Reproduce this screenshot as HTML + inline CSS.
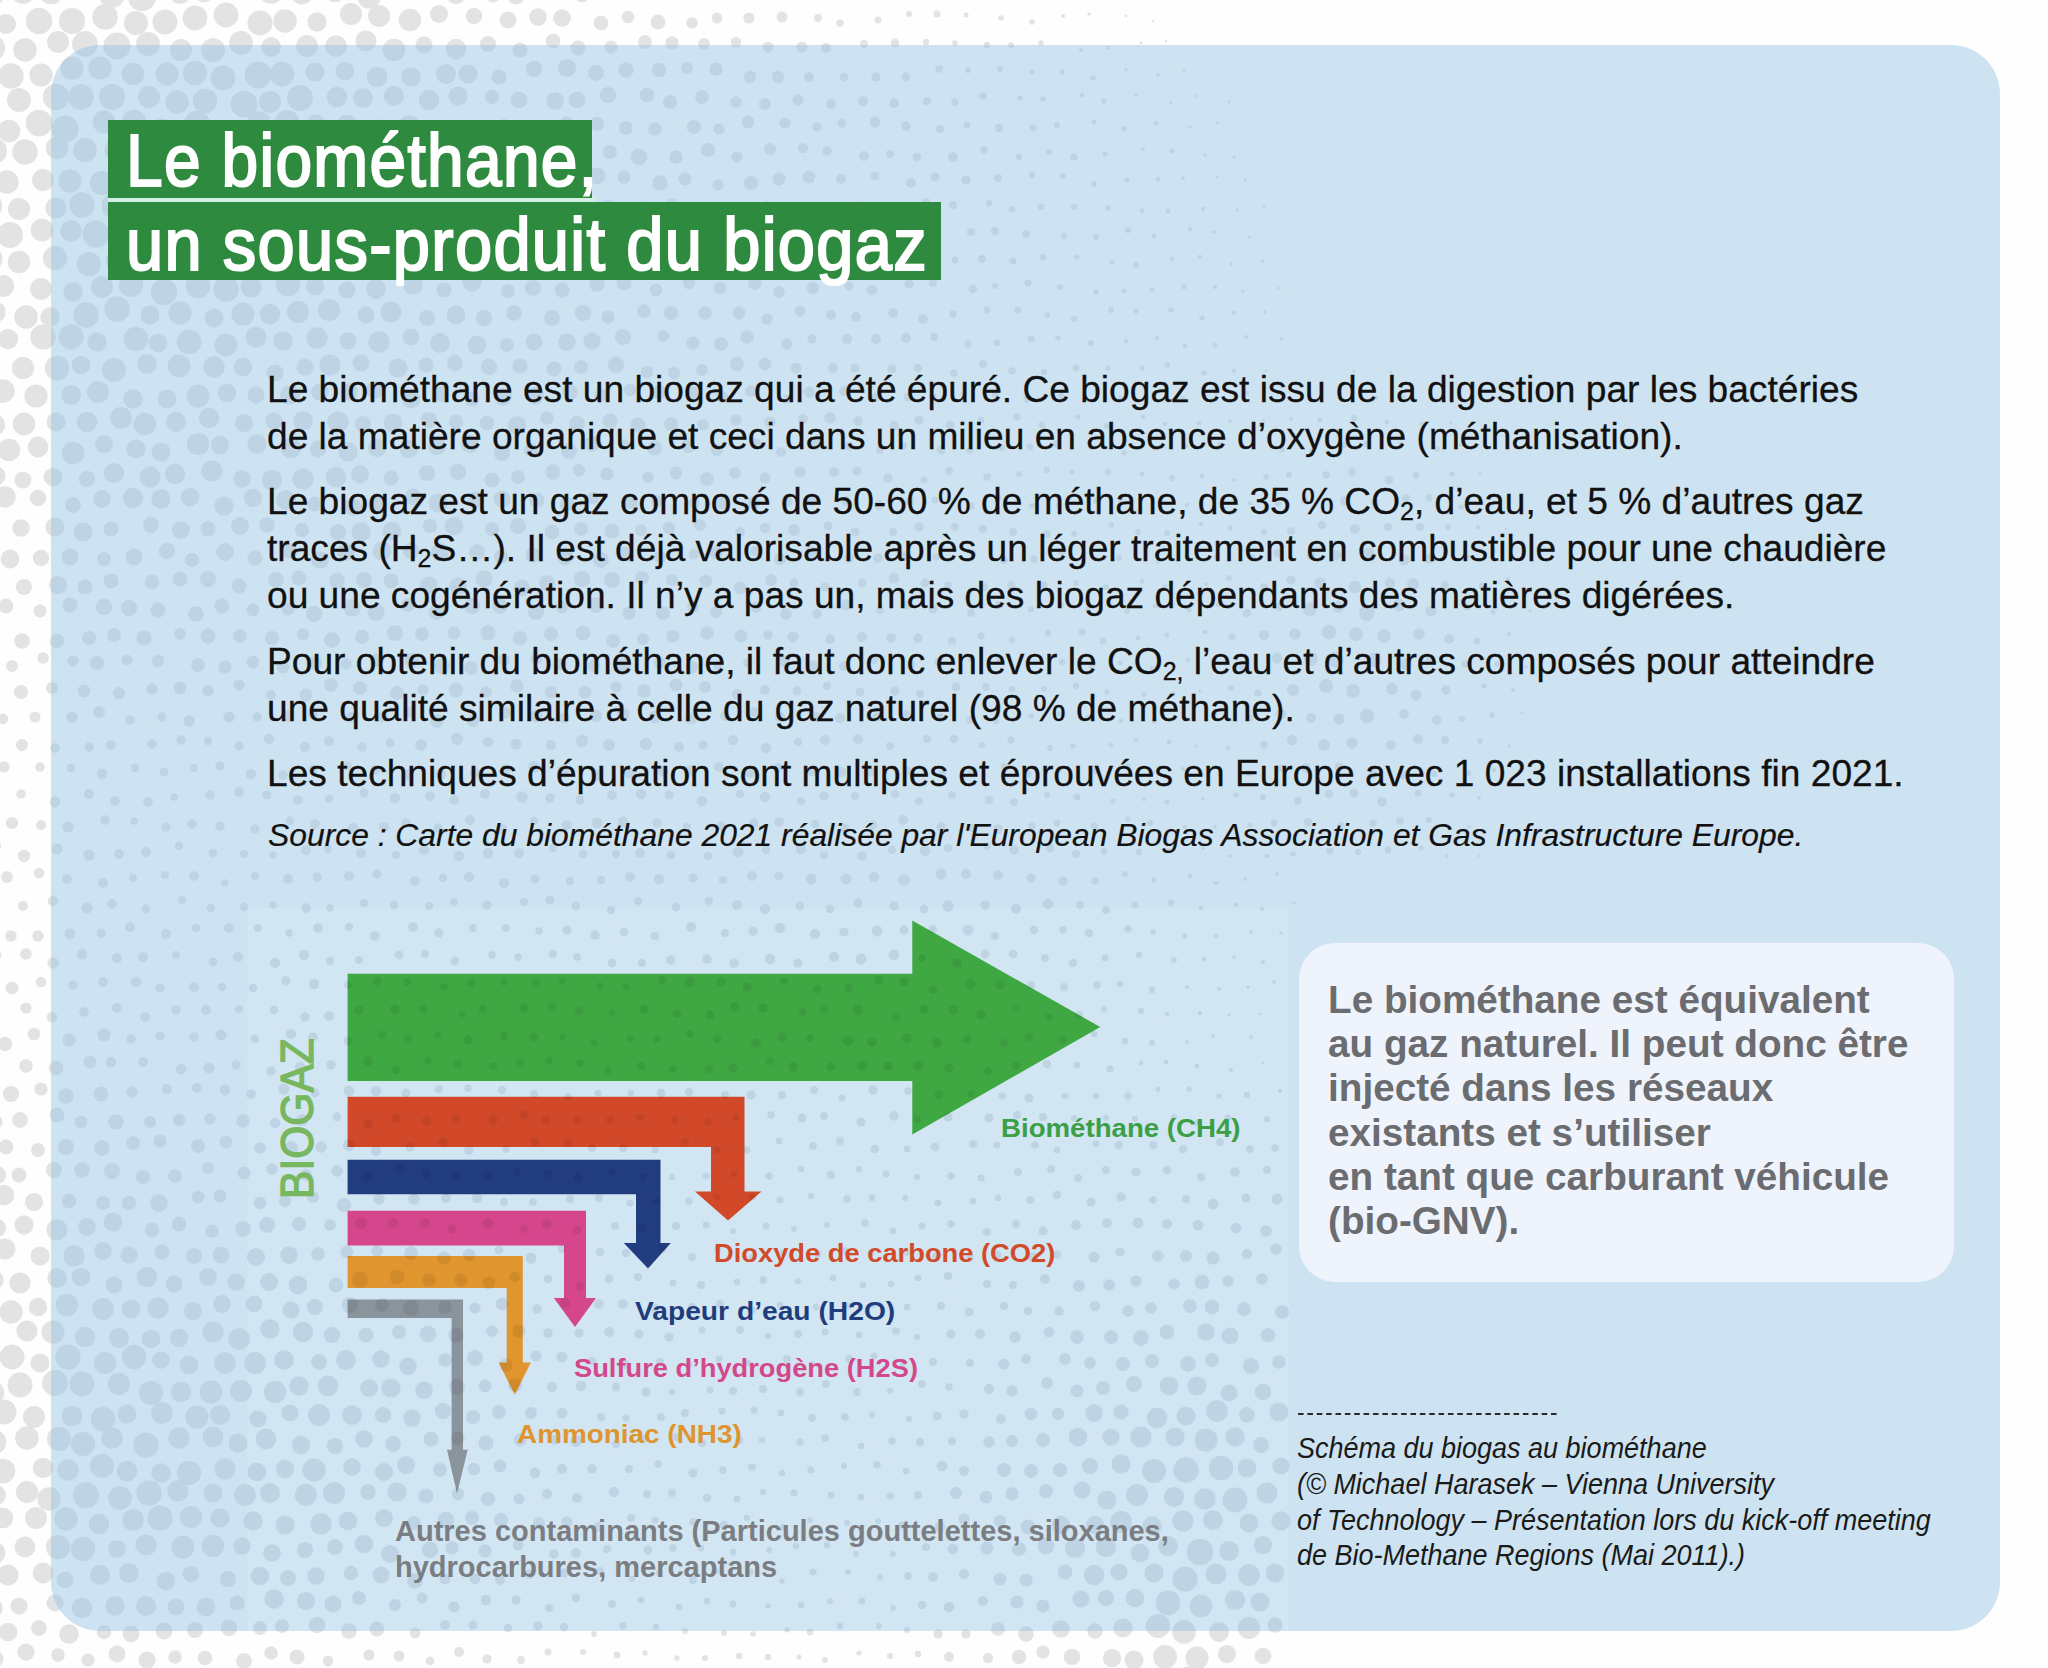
<!DOCTYPE html>
<html><head><meta charset="utf-8">
<style>
html,body{margin:0;padding:0}
body{width:2048px;height:1668px;position:relative;overflow:hidden;background:#fefefe;font-family:"Liberation Sans",sans-serif}
.abs{position:absolute}
#dots{position:absolute;left:0;top:0}
.tb{position:absolute;background:#2e8a3e}
.tt{position:absolute;color:#fff;font-weight:normal;font-size:75px;line-height:80px;white-space:nowrap;transform-origin:0 0;-webkit-text-stroke:2.2px #fff;letter-spacing:1.5px}
.body{position:absolute;left:267px;color:#111;font-size:37.14px;line-height:47px;white-space:nowrap;-webkit-text-stroke:0.3px #111}
.body sub{font-size:25px;line-height:0;vertical-align:-6px}
.src{position:absolute;left:268px;color:#111;font-style:italic;font-size:31.83px;line-height:40px;white-space:nowrap;-webkit-text-stroke:0.2px #111}
#box{position:absolute;left:1299px;top:943px;width:655px;height:339px;border-radius:36px;background:#eef3fc}
.boxt{position:absolute;left:1328px;color:#6b6c70;font-weight:bold;font-size:38.7px;line-height:44.2px;white-space:nowrap}
.cap{position:absolute;left:1297px;color:#1a1a1a;font-style:italic;font-size:28.6px;line-height:35.8px;white-space:nowrap;transform:scaleX(0.944);transform-origin:0 0}
.lab{position:absolute;font-weight:bold;white-space:nowrap;transform-origin:0 0}
</style></head><body>
<svg id="dots" width="2048" height="1668" viewBox="0 0 2048 1668">
<defs><g id="D"><circle cx="-8" cy="-7" r="12.9"/><circle cx="23" cy="-8" r="11.9"/><circle cx="51" cy="-8" r="12.2"/><circle cx="88" cy="-12" r="11.2"/><circle cx="112" cy="-5" r="12.8"/><circle cx="142" cy="-3" r="14.1"/><circle cx="180" cy="-7" r="10.8"/><circle cx="204" cy="-8" r="10.3"/><circle cx="237" cy="-11" r="10.0"/><circle cx="271" cy="-9" r="12.8"/><circle cx="302" cy="-7" r="11.4"/><circle cx="335" cy="-8" r="10.2"/><circle cx="369" cy="-3" r="11.7"/><circle cx="397" cy="-10" r="9.3"/><circle cx="424" cy="-12" r="10.7"/><circle cx="456" cy="-5" r="9.1"/><circle cx="493" cy="-5" r="7.5"/><circle cx="516" cy="-4" r="8.6"/><circle cx="555" cy="-9" r="7.1"/><circle cx="582" cy="-5" r="7.3"/><circle cx="608" cy="-10" r="8.6"/><circle cx="646" cy="-12" r="6.3"/><circle cx="670" cy="-12" r="7.1"/><circle cx="702" cy="-7" r="5.9"/><circle cx="733" cy="-6" r="4.9"/><circle cx="768" cy="-12" r="4.9"/><circle cx="795" cy="-10" r="5.3"/><circle cx="832" cy="-10" r="4.7"/><circle cx="857" cy="-9" r="4.3"/><circle cx="892" cy="-12" r="3.9"/><circle cx="919" cy="-10" r="3.4"/><circle cx="951" cy="-10" r="2.5"/><circle cx="980" cy="-7" r="2.5"/><circle cx="1016" cy="-9" r="2.3"/><circle cx="1051" cy="-8" r="2.1"/><circle cx="1081" cy="-11" r="1.6"/><circle cx="1112" cy="-5" r="1.4"/><circle cx="1136" cy="-6" r="1.5"/><circle cx="6" cy="24" r="10.0"/><circle cx="39" cy="21" r="13.2"/><circle cx="72" cy="21" r="13.0"/><circle cx="105" cy="17" r="12.8"/><circle cx="136" cy="23" r="12.0"/><circle cx="165" cy="22" r="12.5"/><circle cx="195" cy="18" r="12.4"/><circle cx="226" cy="15" r="12.4"/><circle cx="260" cy="23" r="12.5"/><circle cx="285" cy="21" r="11.8"/><circle cx="317" cy="22" r="9.7"/><circle cx="351" cy="14" r="11.1"/><circle cx="379" cy="16" r="11.0"/><circle cx="410" cy="20" r="11.2"/><circle cx="439" cy="14" r="9.0"/><circle cx="474" cy="16" r="8.2"/><circle cx="508" cy="20" r="8.5"/><circle cx="538" cy="17" r="8.8"/><circle cx="562" cy="18" r="8.8"/><circle cx="601" cy="23" r="7.3"/><circle cx="628" cy="17" r="6.3"/><circle cx="658" cy="22" r="7.5"/><circle cx="692" cy="23" r="5.8"/><circle cx="717" cy="18" r="5.4"/><circle cx="749" cy="18" r="5.6"/><circle cx="782" cy="17" r="5.5"/><circle cx="818" cy="18" r="3.9"/><circle cx="840" cy="23" r="3.7"/><circle cx="878" cy="20" r="3.6"/><circle cx="909" cy="14" r="3.0"/><circle cx="937" cy="14" r="3.5"/><circle cx="966" cy="15" r="2.5"/><circle cx="1001" cy="18" r="2.8"/><circle cx="1032" cy="22" r="2.8"/><circle cx="1063" cy="16" r="2.1"/><circle cx="1089" cy="14" r="1.8"/><circle cx="1126" cy="16" r="1.4"/><circle cx="1153" cy="21" r="1.3"/><circle cx="-8" cy="48" r="13.0"/><circle cx="25" cy="50" r="11.8"/><circle cx="58" cy="42" r="10.9"/><circle cx="85" cy="44" r="12.9"/><circle cx="117" cy="46" r="13.5"/><circle cx="148" cy="44" r="11.9"/><circle cx="181" cy="50" r="11.0"/><circle cx="213" cy="50" r="12.0"/><circle cx="241" cy="43" r="11.9"/><circle cx="271" cy="47" r="9.9"/><circle cx="307" cy="46" r="10.9"/><circle cx="336" cy="46" r="10.8"/><circle cx="366" cy="41" r="10.6"/><circle cx="394" cy="50" r="11.3"/><circle cx="424" cy="45" r="8.5"/><circle cx="456" cy="49" r="10.3"/><circle cx="488" cy="44" r="8.0"/><circle cx="520" cy="50" r="7.5"/><circle cx="553" cy="41" r="7.3"/><circle cx="578" cy="48" r="7.4"/><circle cx="611" cy="47" r="6.5"/><circle cx="645" cy="42" r="7.0"/><circle cx="672" cy="43" r="6.7"/><circle cx="704" cy="44" r="6.0"/><circle cx="736" cy="42" r="5.2"/><circle cx="768" cy="47" r="5.4"/><circle cx="802" cy="47" r="5.5"/><circle cx="826" cy="48" r="5.1"/><circle cx="864" cy="44" r="3.9"/><circle cx="895" cy="43" r="4.4"/><circle cx="926" cy="42" r="3.2"/><circle cx="955" cy="43" r="2.8"/><circle cx="987" cy="45" r="3.3"/><circle cx="1011" cy="45" r="3.0"/><circle cx="1041" cy="43" r="2.7"/><circle cx="1081" cy="50" r="2.0"/><circle cx="1108" cy="48" r="2.0"/><circle cx="1141" cy="43" r="1.4"/><circle cx="1166" cy="41" r="1.4"/><circle cx="11" cy="76" r="12.7"/><circle cx="41" cy="75" r="11.6"/><circle cx="72" cy="68" r="11.5"/><circle cx="100" cy="68" r="11.6"/><circle cx="133" cy="74" r="11.3"/><circle cx="167" cy="74" r="11.6"/><circle cx="195" cy="73" r="12.2"/><circle cx="223" cy="78" r="12.4"/><circle cx="258" cy="75" r="13.4"/><circle cx="282" cy="74" r="12.4"/><circle cx="315" cy="72" r="9.6"/><circle cx="345" cy="71" r="9.3"/><circle cx="377" cy="77" r="10.3"/><circle cx="411" cy="77" r="9.8"/><circle cx="446" cy="74" r="10.0"/><circle cx="468" cy="74" r="9.6"/><circle cx="499" cy="77" r="7.6"/><circle cx="534" cy="69" r="8.2"/><circle cx="567" cy="68" r="9.0"/><circle cx="596" cy="73" r="7.9"/><circle cx="626" cy="70" r="7.6"/><circle cx="659" cy="70" r="7.3"/><circle cx="687" cy="68" r="5.9"/><circle cx="716" cy="69" r="6.6"/><circle cx="750" cy="77" r="6.2"/><circle cx="778" cy="77" r="6.2"/><circle cx="809" cy="77" r="4.9"/><circle cx="844" cy="77" r="4.3"/><circle cx="876" cy="77" r="4.6"/><circle cx="906" cy="77" r="4.4"/><circle cx="939" cy="69" r="3.8"/><circle cx="968" cy="70" r="2.9"/><circle cx="1000" cy="69" r="3.0"/><circle cx="1032" cy="72" r="2.6"/><circle cx="1062" cy="72" r="2.8"/><circle cx="1093" cy="78" r="2.7"/><circle cx="1126" cy="70" r="1.7"/><circle cx="1158" cy="75" r="1.8"/><circle cx="1184" cy="70" r="1.5"/><circle cx="-12" cy="103" r="10.4"/><circle cx="19" cy="100" r="12.0"/><circle cx="56" cy="97" r="13.2"/><circle cx="81" cy="97" r="12.8"/><circle cx="112" cy="97" r="13.1"/><circle cx="149" cy="97" r="11.0"/><circle cx="177" cy="102" r="11.7"/><circle cx="205" cy="101" r="12.3"/><circle cx="244" cy="104" r="13.3"/><circle cx="270" cy="102" r="10.9"/><circle cx="300" cy="98" r="13.0"/><circle cx="337" cy="97" r="10.3"/><circle cx="363" cy="98" r="10.0"/><circle cx="394" cy="96" r="10.0"/><circle cx="429" cy="100" r="10.2"/><circle cx="458" cy="96" r="9.5"/><circle cx="492" cy="97" r="7.2"/><circle cx="519" cy="100" r="8.5"/><circle cx="555" cy="101" r="8.7"/><circle cx="577" cy="100" r="8.5"/><circle cx="608" cy="95" r="8.1"/><circle cx="647" cy="95" r="7.3"/><circle cx="670" cy="102" r="7.1"/><circle cx="702" cy="97" r="6.9"/><circle cx="736" cy="102" r="5.8"/><circle cx="765" cy="104" r="6.0"/><circle cx="798" cy="100" r="5.7"/><circle cx="831" cy="104" r="4.9"/><circle cx="863" cy="101" r="5.2"/><circle cx="894" cy="103" r="4.9"/><circle cx="927" cy="101" r="4.1"/><circle cx="955" cy="102" r="3.7"/><circle cx="983" cy="96" r="3.7"/><circle cx="1020" cy="98" r="2.8"/><circle cx="1043" cy="99" r="2.8"/><circle cx="1082" cy="95" r="2.4"/><circle cx="1104" cy="101" r="2.6"/><circle cx="1136" cy="95" r="2.1"/><circle cx="1171" cy="103" r="1.6"/><circle cx="1197" cy="96" r="1.4"/><circle cx="1229" cy="102" r="1.3"/><circle cx="9" cy="131" r="11.3"/><circle cx="39" cy="123" r="13.3"/><circle cx="65" cy="129" r="13.6"/><circle cx="104" cy="122" r="11.4"/><circle cx="134" cy="122" r="12.3"/><circle cx="162" cy="131" r="12.6"/><circle cx="197" cy="124" r="13.2"/><circle cx="224" cy="130" r="10.3"/><circle cx="259" cy="123" r="11.8"/><circle cx="287" cy="123" r="12.7"/><circle cx="316" cy="124" r="9.6"/><circle cx="347" cy="126" r="11.3"/><circle cx="378" cy="128" r="8.7"/><circle cx="409" cy="126" r="10.8"/><circle cx="445" cy="128" r="7.4"/><circle cx="471" cy="128" r="7.8"/><circle cx="504" cy="126" r="7.0"/><circle cx="539" cy="129" r="7.3"/><circle cx="567" cy="124" r="7.5"/><circle cx="597" cy="124" r="7.2"/><circle cx="626" cy="128" r="6.8"/><circle cx="655" cy="129" r="6.6"/><circle cx="694" cy="127" r="7.1"/><circle cx="719" cy="129" r="5.5"/><circle cx="748" cy="122" r="6.4"/><circle cx="785" cy="123" r="5.5"/><circle cx="817" cy="127" r="4.7"/><circle cx="842" cy="123" r="4.5"/><circle cx="875" cy="122" r="5.4"/><circle cx="906" cy="126" r="4.7"/><circle cx="940" cy="129" r="4.0"/><circle cx="967" cy="125" r="3.3"/><circle cx="999" cy="128" r="4.2"/><circle cx="1033" cy="128" r="3.4"/><circle cx="1057" cy="125" r="2.9"/><circle cx="1094" cy="122" r="2.6"/><circle cx="1124" cy="129" r="2.7"/><circle cx="1156" cy="123" r="2.3"/><circle cx="1190" cy="127" r="1.7"/><circle cx="1217" cy="123" r="1.6"/><circle cx="-6" cy="151" r="13.0"/><circle cx="25" cy="152" r="12.7"/><circle cx="57" cy="148" r="11.2"/><circle cx="85" cy="150" r="11.9"/><circle cx="117" cy="150" r="12.4"/><circle cx="145" cy="154" r="11.7"/><circle cx="179" cy="148" r="12.8"/><circle cx="205" cy="158" r="12.3"/><circle cx="240" cy="152" r="12.2"/><circle cx="273" cy="156" r="12.5"/><circle cx="302" cy="158" r="12.5"/><circle cx="337" cy="152" r="10.5"/><circle cx="365" cy="157" r="10.2"/><circle cx="395" cy="152" r="10.8"/><circle cx="424" cy="149" r="9.7"/><circle cx="461" cy="155" r="8.7"/><circle cx="491" cy="151" r="8.5"/><circle cx="515" cy="149" r="8.0"/><circle cx="550" cy="152" r="6.8"/><circle cx="583" cy="153" r="7.1"/><circle cx="610" cy="152" r="6.9"/><circle cx="639" cy="157" r="8.3"/><circle cx="676" cy="157" r="6.7"/><circle cx="708" cy="150" r="7.1"/><circle cx="737" cy="157" r="5.5"/><circle cx="770" cy="149" r="6.1"/><circle cx="803" cy="148" r="5.2"/><circle cx="827" cy="151" r="4.7"/><circle cx="864" cy="156" r="4.9"/><circle cx="890" cy="154" r="4.2"/><circle cx="917" cy="157" r="4.3"/><circle cx="953" cy="157" r="4.9"/><circle cx="984" cy="150" r="3.7"/><circle cx="1019" cy="157" r="3.3"/><circle cx="1049" cy="152" r="3.3"/><circle cx="1074" cy="157" r="3.6"/><circle cx="1105" cy="154" r="2.5"/><circle cx="1143" cy="149" r="2.1"/><circle cx="1172" cy="151" r="2.4"/><circle cx="1205" cy="155" r="1.7"/><circle cx="1234" cy="157" r="1.5"/><circle cx="7" cy="182" r="11.7"/><circle cx="43" cy="180" r="10.9"/><circle cx="70" cy="181" r="11.6"/><circle cx="102" cy="183" r="12.2"/><circle cx="132" cy="183" r="12.8"/><circle cx="163" cy="184" r="10.8"/><circle cx="196" cy="177" r="12.3"/><circle cx="222" cy="179" r="12.7"/><circle cx="258" cy="183" r="10.5"/><circle cx="286" cy="177" r="11.6"/><circle cx="317" cy="175" r="11.3"/><circle cx="351" cy="181" r="11.5"/><circle cx="376" cy="176" r="8.4"/><circle cx="410" cy="179" r="9.1"/><circle cx="439" cy="183" r="7.6"/><circle cx="477" cy="181" r="8.5"/><circle cx="506" cy="177" r="7.3"/><circle cx="533" cy="175" r="7.6"/><circle cx="567" cy="180" r="7.2"/><circle cx="597" cy="176" r="8.4"/><circle cx="624" cy="177" r="6.6"/><circle cx="660" cy="183" r="7.7"/><circle cx="685" cy="179" r="6.5"/><circle cx="718" cy="185" r="5.5"/><circle cx="751" cy="183" r="7.1"/><circle cx="779" cy="179" r="6.4"/><circle cx="809" cy="177" r="6.3"/><circle cx="841" cy="179" r="5.0"/><circle cx="875" cy="176" r="4.3"/><circle cx="911" cy="183" r="5.0"/><circle cx="935" cy="177" r="4.5"/><circle cx="966" cy="180" r="4.6"/><circle cx="998" cy="178" r="4.3"/><circle cx="1032" cy="175" r="3.3"/><circle cx="1063" cy="176" r="3.0"/><circle cx="1094" cy="184" r="2.9"/><circle cx="1127" cy="180" r="2.5"/><circle cx="1158" cy="179" r="2.5"/><circle cx="1183" cy="178" r="1.9"/><circle cx="1217" cy="177" r="1.6"/><circle cx="1245" cy="180" r="1.4"/><circle cx="-10" cy="206" r="12.2"/><circle cx="19" cy="209" r="11.1"/><circle cx="56" cy="208" r="10.6"/><circle cx="82" cy="205" r="12.8"/><circle cx="115" cy="206" r="13.4"/><circle cx="144" cy="205" r="11.4"/><circle cx="175" cy="202" r="10.1"/><circle cx="210" cy="207" r="12.7"/><circle cx="245" cy="205" r="12.0"/><circle cx="275" cy="204" r="11.9"/><circle cx="304" cy="211" r="12.2"/><circle cx="330" cy="208" r="9.2"/><circle cx="363" cy="206" r="8.6"/><circle cx="394" cy="205" r="9.5"/><circle cx="424" cy="203" r="8.7"/><circle cx="457" cy="203" r="9.0"/><circle cx="485" cy="203" r="7.9"/><circle cx="518" cy="203" r="8.3"/><circle cx="552" cy="207" r="8.4"/><circle cx="576" cy="206" r="7.4"/><circle cx="608" cy="206" r="6.5"/><circle cx="643" cy="208" r="7.1"/><circle cx="672" cy="204" r="5.9"/><circle cx="703" cy="211" r="6.8"/><circle cx="734" cy="208" r="5.7"/><circle cx="767" cy="208" r="6.9"/><circle cx="797" cy="208" r="6.5"/><circle cx="832" cy="208" r="5.6"/><circle cx="859" cy="206" r="4.8"/><circle cx="894" cy="211" r="4.6"/><circle cx="926" cy="202" r="4.0"/><circle cx="953" cy="205" r="4.0"/><circle cx="989" cy="203" r="3.4"/><circle cx="1012" cy="209" r="3.2"/><circle cx="1041" cy="207" r="3.1"/><circle cx="1074" cy="207" r="3.1"/><circle cx="1108" cy="208" r="2.8"/><circle cx="1142" cy="211" r="2.4"/><circle cx="1168" cy="211" r="2.2"/><circle cx="1203" cy="209" r="2.2"/><circle cx="1237" cy="210" r="1.5"/><circle cx="1264" cy="207" r="1.4"/><circle cx="10" cy="235" r="13.0"/><circle cx="42" cy="230" r="11.4"/><circle cx="71" cy="231" r="10.7"/><circle cx="96" cy="234" r="13.5"/><circle cx="136" cy="230" r="12.5"/><circle cx="162" cy="235" r="11.4"/><circle cx="198" cy="239" r="9.8"/><circle cx="227" cy="230" r="9.7"/><circle cx="253" cy="236" r="12.9"/><circle cx="283" cy="232" r="9.3"/><circle cx="318" cy="233" r="10.2"/><circle cx="347" cy="237" r="11.2"/><circle cx="377" cy="233" r="10.0"/><circle cx="413" cy="238" r="8.8"/><circle cx="443" cy="234" r="9.5"/><circle cx="469" cy="230" r="7.4"/><circle cx="508" cy="231" r="8.2"/><circle cx="531" cy="232" r="6.8"/><circle cx="566" cy="230" r="8.1"/><circle cx="594" cy="231" r="7.6"/><circle cx="626" cy="231" r="6.3"/><circle cx="654" cy="238" r="6.7"/><circle cx="685" cy="230" r="6.8"/><circle cx="725" cy="231" r="7.2"/><circle cx="751" cy="233" r="6.8"/><circle cx="781" cy="229" r="6.0"/><circle cx="815" cy="235" r="5.2"/><circle cx="849" cy="237" r="6.1"/><circle cx="875" cy="237" r="5.3"/><circle cx="903" cy="229" r="4.2"/><circle cx="934" cy="229" r="4.2"/><circle cx="971" cy="232" r="4.0"/><circle cx="995" cy="231" r="4.2"/><circle cx="1026" cy="234" r="3.7"/><circle cx="1064" cy="236" r="2.9"/><circle cx="1096" cy="237" r="3.0"/><circle cx="1128" cy="230" r="3.0"/><circle cx="1154" cy="236" r="2.3"/><circle cx="1190" cy="229" r="2.3"/><circle cx="1214" cy="232" r="1.9"/><circle cx="1249" cy="237" r="1.6"/><circle cx="-11" cy="259" r="13.5"/><circle cx="19" cy="262" r="11.2"/><circle cx="55" cy="258" r="12.1"/><circle cx="89" cy="264" r="12.1"/><circle cx="116" cy="261" r="10.2"/><circle cx="150" cy="262" r="11.5"/><circle cx="180" cy="260" r="11.0"/><circle cx="206" cy="261" r="11.5"/><circle cx="240" cy="256" r="11.6"/><circle cx="270" cy="261" r="11.2"/><circle cx="306" cy="257" r="10.5"/><circle cx="338" cy="263" r="9.5"/><circle cx="366" cy="265" r="9.4"/><circle cx="399" cy="257" r="10.7"/><circle cx="426" cy="258" r="9.9"/><circle cx="458" cy="265" r="9.4"/><circle cx="491" cy="261" r="9.6"/><circle cx="515" cy="264" r="8.7"/><circle cx="548" cy="264" r="7.8"/><circle cx="581" cy="264" r="7.0"/><circle cx="610" cy="262" r="6.5"/><circle cx="644" cy="263" r="7.2"/><circle cx="671" cy="263" r="7.7"/><circle cx="708" cy="261" r="7.4"/><circle cx="739" cy="257" r="6.0"/><circle cx="763" cy="256" r="5.8"/><circle cx="802" cy="264" r="5.0"/><circle cx="826" cy="259" r="6.1"/><circle cx="861" cy="264" r="4.4"/><circle cx="896" cy="258" r="5.0"/><circle cx="926" cy="263" r="4.0"/><circle cx="955" cy="260" r="3.5"/><circle cx="982" cy="259" r="3.9"/><circle cx="1013" cy="261" r="3.6"/><circle cx="1043" cy="257" r="3.3"/><circle cx="1077" cy="257" r="2.5"/><circle cx="1112" cy="262" r="2.6"/><circle cx="1136" cy="265" r="2.7"/><circle cx="1172" cy="259" r="2.2"/><circle cx="1200" cy="257" r="2.3"/><circle cx="1231" cy="264" r="1.9"/><circle cx="1263" cy="261" r="1.8"/><circle cx="3" cy="286" r="11.0"/><circle cx="41" cy="289" r="10.9"/><circle cx="73" cy="292" r="9.7"/><circle cx="102" cy="287" r="11.0"/><circle cx="131" cy="285" r="12.1"/><circle cx="164" cy="292" r="13.1"/><circle cx="198" cy="286" r="12.3"/><circle cx="226" cy="289" r="12.7"/><circle cx="251" cy="287" r="10.5"/><circle cx="288" cy="284" r="12.3"/><circle cx="315" cy="286" r="9.2"/><circle cx="347" cy="290" r="8.6"/><circle cx="376" cy="289" r="9.9"/><circle cx="413" cy="285" r="9.9"/><circle cx="444" cy="290" r="7.6"/><circle cx="472" cy="282" r="9.4"/><circle cx="508" cy="291" r="7.0"/><circle cx="533" cy="288" r="8.1"/><circle cx="562" cy="290" r="7.4"/><circle cx="597" cy="284" r="7.8"/><circle cx="624" cy="283" r="7.4"/><circle cx="656" cy="290" r="6.5"/><circle cx="689" cy="283" r="6.2"/><circle cx="720" cy="288" r="6.4"/><circle cx="755" cy="283" r="6.8"/><circle cx="779" cy="292" r="5.9"/><circle cx="813" cy="288" r="6.2"/><circle cx="849" cy="286" r="4.4"/><circle cx="872" cy="290" r="5.4"/><circle cx="909" cy="284" r="4.7"/><circle cx="933" cy="283" r="4.1"/><circle cx="973" cy="289" r="4.3"/><circle cx="995" cy="286" r="3.1"/><circle cx="1028" cy="283" r="3.6"/><circle cx="1060" cy="287" r="3.0"/><circle cx="1096" cy="292" r="2.8"/><circle cx="1124" cy="291" r="2.5"/><circle cx="1152" cy="290" r="2.3"/><circle cx="1184" cy="287" r="2.4"/><circle cx="1215" cy="287" r="2.1"/><circle cx="1243" cy="291" r="1.6"/><circle cx="1279" cy="288" r="1.5"/><circle cx="-5" cy="312" r="10.7"/><circle cx="26" cy="317" r="11.8"/><circle cx="50" cy="317" r="9.7"/><circle cx="86" cy="315" r="12.8"/><circle cx="117" cy="309" r="12.8"/><circle cx="150" cy="315" r="9.5"/><circle cx="180" cy="313" r="11.7"/><circle cx="214" cy="318" r="9.4"/><circle cx="243" cy="314" r="11.5"/><circle cx="270" cy="314" r="10.3"/><circle cx="298" cy="312" r="11.2"/><circle cx="329" cy="310" r="11.1"/><circle cx="366" cy="315" r="8.4"/><circle cx="391" cy="312" r="10.6"/><circle cx="427" cy="318" r="8.0"/><circle cx="456" cy="315" r="9.4"/><circle cx="484" cy="318" r="8.2"/><circle cx="514" cy="313" r="7.8"/><circle cx="552" cy="318" r="7.9"/><circle cx="583" cy="313" r="8.3"/><circle cx="608" cy="317" r="6.7"/><circle cx="644" cy="311" r="6.8"/><circle cx="671" cy="313" r="7.1"/><circle cx="705" cy="313" r="6.7"/><circle cx="739" cy="313" r="6.4"/><circle cx="767" cy="319" r="5.6"/><circle cx="800" cy="311" r="5.2"/><circle cx="831" cy="315" r="4.9"/><circle cx="856" cy="317" r="4.9"/><circle cx="893" cy="313" r="4.9"/><circle cx="923" cy="319" r="5.0"/><circle cx="953" cy="314" r="3.7"/><circle cx="987" cy="310" r="3.4"/><circle cx="1018" cy="310" r="3.5"/><circle cx="1047" cy="315" r="2.8"/><circle cx="1074" cy="319" r="3.1"/><circle cx="1111" cy="310" r="2.9"/><circle cx="1136" cy="311" r="2.6"/><circle cx="1171" cy="310" r="2.7"/><circle cx="1202" cy="318" r="2.7"/><circle cx="1234" cy="313" r="2.3"/><circle cx="1265" cy="312" r="1.9"/><circle cx="8" cy="339" r="10.2"/><circle cx="43" cy="337" r="12.6"/><circle cx="71" cy="337" r="12.5"/><circle cx="97" cy="342" r="9.6"/><circle cx="136" cy="339" r="12.2"/><circle cx="158" cy="343" r="9.3"/><circle cx="189" cy="342" r="12.3"/><circle cx="226" cy="345" r="11.4"/><circle cx="256" cy="337" r="10.5"/><circle cx="283" cy="341" r="9.8"/><circle cx="317" cy="338" r="10.7"/><circle cx="348" cy="341" r="8.4"/><circle cx="379" cy="342" r="10.7"/><circle cx="411" cy="337" r="8.4"/><circle cx="440" cy="343" r="9.9"/><circle cx="477" cy="345" r="9.5"/><circle cx="507" cy="345" r="6.9"/><circle cx="534" cy="342" r="8.4"/><circle cx="567" cy="342" r="8.8"/><circle cx="592" cy="341" r="8.6"/><circle cx="623" cy="337" r="8.1"/><circle cx="663" cy="336" r="5.9"/><circle cx="693" cy="343" r="6.6"/><circle cx="721" cy="344" r="6.9"/><circle cx="747" cy="337" r="6.7"/><circle cx="787" cy="344" r="5.5"/><circle cx="812" cy="339" r="4.6"/><circle cx="847" cy="339" r="5.3"/><circle cx="876" cy="339" r="5.1"/><circle cx="906" cy="338" r="5.1"/><circle cx="934" cy="337" r="3.9"/><circle cx="968" cy="344" r="3.7"/><circle cx="997" cy="343" r="3.3"/><circle cx="1031" cy="339" r="3.6"/><circle cx="1058" cy="338" r="2.8"/><circle cx="1091" cy="343" r="3.0"/><circle cx="1126" cy="341" r="2.3"/><circle cx="1157" cy="338" r="2.3"/><circle cx="1185" cy="346" r="2.3"/><circle cx="1215" cy="345" r="2.6"/><circle cx="1246" cy="337" r="2.1"/><circle cx="1281" cy="339" r="1.7"/><circle cx="-10" cy="365" r="9.7"/><circle cx="23" cy="368" r="11.1"/><circle cx="57" cy="368" r="12.3"/><circle cx="81" cy="365" r="9.3"/><circle cx="114" cy="370" r="12.0"/><circle cx="147" cy="364" r="10.0"/><circle cx="179" cy="366" r="11.4"/><circle cx="214" cy="367" r="10.7"/><circle cx="243" cy="367" r="9.2"/><circle cx="275" cy="373" r="8.6"/><circle cx="305" cy="367" r="8.6"/><circle cx="330" cy="365" r="10.5"/><circle cx="361" cy="363" r="8.6"/><circle cx="398" cy="368" r="9.5"/><circle cx="426" cy="365" r="7.4"/><circle cx="455" cy="363" r="7.9"/><circle cx="489" cy="367" r="8.2"/><circle cx="520" cy="366" r="7.6"/><circle cx="554" cy="369" r="7.5"/><circle cx="581" cy="367" r="7.1"/><circle cx="616" cy="365" r="8.2"/><circle cx="647" cy="372" r="6.2"/><circle cx="674" cy="373" r="6.2"/><circle cx="702" cy="370" r="5.9"/><circle cx="737" cy="364" r="7.0"/><circle cx="765" cy="364" r="6.2"/><circle cx="796" cy="368" r="5.5"/><circle cx="833" cy="368" r="5.0"/><circle cx="855" cy="368" r="4.6"/><circle cx="892" cy="369" r="4.6"/><circle cx="918" cy="368" r="4.3"/><circle cx="954" cy="373" r="3.7"/><circle cx="983" cy="364" r="4.1"/><circle cx="1012" cy="371" r="3.8"/><circle cx="1044" cy="372" r="3.1"/><circle cx="1076" cy="368" r="3.4"/><circle cx="1108" cy="368" r="2.6"/><circle cx="1142" cy="368" r="2.5"/><circle cx="1167" cy="365" r="2.8"/><circle cx="1204" cy="373" r="2.6"/><circle cx="1234" cy="371" r="2.2"/><circle cx="1266" cy="371" r="1.5"/><circle cx="1354" cy="371" r="1.6"/><circle cx="1391" cy="372" r="1.4"/><circle cx="3" cy="391" r="11.8"/><circle cx="36" cy="396" r="11.6"/><circle cx="71" cy="395" r="9.9"/><circle cx="98" cy="392" r="10.9"/><circle cx="133" cy="399" r="9.7"/><circle cx="167" cy="399" r="9.4"/><circle cx="198" cy="396" r="11.5"/><circle cx="227" cy="393" r="9.3"/><circle cx="256" cy="395" r="8.5"/><circle cx="290" cy="395" r="9.8"/><circle cx="320" cy="392" r="8.8"/><circle cx="349" cy="392" r="8.9"/><circle cx="375" cy="390" r="8.8"/><circle cx="411" cy="399" r="9.3"/><circle cx="441" cy="394" r="7.9"/><circle cx="472" cy="399" r="7.4"/><circle cx="503" cy="397" r="8.8"/><circle cx="535" cy="396" r="8.9"/><circle cx="570" cy="392" r="7.7"/><circle cx="601" cy="395" r="6.6"/><circle cx="630" cy="390" r="6.3"/><circle cx="659" cy="392" r="7.2"/><circle cx="692" cy="393" r="7.0"/><circle cx="722" cy="397" r="6.1"/><circle cx="751" cy="391" r="5.8"/><circle cx="787" cy="399" r="4.7"/><circle cx="809" cy="392" r="5.6"/><circle cx="844" cy="391" r="4.9"/><circle cx="876" cy="397" r="4.5"/><circle cx="908" cy="397" r="4.5"/><circle cx="933" cy="397" r="3.7"/><circle cx="964" cy="394" r="3.3"/><circle cx="995" cy="394" r="3.6"/><circle cx="1027" cy="399" r="3.7"/><circle cx="1061" cy="396" r="2.9"/><circle cx="1097" cy="391" r="2.7"/><circle cx="1121" cy="398" r="2.8"/><circle cx="1154" cy="394" r="2.9"/><circle cx="1183" cy="398" r="2.6"/><circle cx="1216" cy="393" r="2.2"/><circle cx="1247" cy="393" r="2.0"/><circle cx="1278" cy="393" r="1.7"/><circle cx="1309" cy="394" r="2.0"/><circle cx="1340" cy="393" r="2.3"/><circle cx="1376" cy="398" r="2.0"/><circle cx="1404" cy="397" r="1.7"/><circle cx="1436" cy="399" r="1.5"/><circle cx="-5" cy="425" r="10.2"/><circle cx="24" cy="424" r="11.4"/><circle cx="56" cy="422" r="9.5"/><circle cx="87" cy="422" r="10.3"/><circle cx="121" cy="418" r="10.9"/><circle cx="145" cy="424" r="11.3"/><circle cx="176" cy="422" r="9.9"/><circle cx="209" cy="418" r="10.2"/><circle cx="244" cy="423" r="9.1"/><circle cx="274" cy="421" r="8.6"/><circle cx="303" cy="421" r="9.8"/><circle cx="338" cy="422" r="10.7"/><circle cx="363" cy="424" r="8.0"/><circle cx="393" cy="423" r="9.5"/><circle cx="429" cy="420" r="8.1"/><circle cx="456" cy="422" r="7.2"/><circle cx="487" cy="423" r="7.3"/><circle cx="517" cy="425" r="9.0"/><circle cx="547" cy="418" r="6.8"/><circle cx="577" cy="424" r="8.0"/><circle cx="610" cy="421" r="7.6"/><circle cx="638" cy="425" r="7.6"/><circle cx="671" cy="424" r="6.9"/><circle cx="703" cy="425" r="5.7"/><circle cx="736" cy="420" r="5.8"/><circle cx="770" cy="422" r="5.8"/><circle cx="803" cy="419" r="4.8"/><circle cx="830" cy="418" r="5.8"/><circle cx="858" cy="421" r="4.7"/><circle cx="894" cy="426" r="4.7"/><circle cx="919" cy="420" r="4.5"/><circle cx="950" cy="425" r="4.5"/><circle cx="981" cy="420" r="3.4"/><circle cx="1017" cy="417" r="3.7"/><circle cx="1042" cy="425" r="3.4"/><circle cx="1078" cy="417" r="2.6"/><circle cx="1107" cy="426" r="3.0"/><circle cx="1143" cy="417" r="2.4"/><circle cx="1165" cy="424" r="2.3"/><circle cx="1199" cy="423" r="2.5"/><circle cx="1230" cy="421" r="1.9"/><circle cx="1264" cy="420" r="1.6"/><circle cx="1291" cy="419" r="2.0"/><circle cx="1320" cy="420" r="2.6"/><circle cx="1354" cy="418" r="2.9"/><circle cx="1387" cy="422" r="2.4"/><circle cx="1422" cy="424" r="2.2"/><circle cx="1451" cy="423" r="1.6"/><circle cx="9" cy="450" r="11.2"/><circle cx="38" cy="447" r="10.4"/><circle cx="73" cy="453" r="11.2"/><circle cx="104" cy="444" r="9.1"/><circle cx="136" cy="449" r="9.6"/><circle cx="161" cy="452" r="9.5"/><circle cx="198" cy="444" r="11.1"/><circle cx="220" cy="445" r="9.2"/><circle cx="257" cy="444" r="9.7"/><circle cx="291" cy="448" r="10.3"/><circle cx="318" cy="449" r="8.4"/><circle cx="348" cy="452" r="9.7"/><circle cx="377" cy="448" r="9.1"/><circle cx="409" cy="449" r="9.2"/><circle cx="437" cy="446" r="9.1"/><circle cx="470" cy="444" r="9.1"/><circle cx="502" cy="453" r="8.2"/><circle cx="531" cy="450" r="7.2"/><circle cx="569" cy="451" r="8.0"/><circle cx="592" cy="444" r="7.9"/><circle cx="624" cy="445" r="5.9"/><circle cx="655" cy="448" r="7.6"/><circle cx="688" cy="446" r="7.0"/><circle cx="717" cy="450" r="6.2"/><circle cx="756" cy="444" r="5.8"/><circle cx="781" cy="452" r="5.0"/><circle cx="816" cy="445" r="5.1"/><circle cx="849" cy="446" r="4.4"/><circle cx="880" cy="450" r="3.9"/><circle cx="903" cy="446" r="4.0"/><circle cx="941" cy="450" r="4.6"/><circle cx="970" cy="450" r="3.7"/><circle cx="1002" cy="448" r="3.1"/><circle cx="1030" cy="447" r="3.5"/><circle cx="1057" cy="444" r="3.8"/><circle cx="1091" cy="447" r="2.7"/><circle cx="1124" cy="453" r="2.6"/><circle cx="1155" cy="448" r="2.9"/><circle cx="1186" cy="446" r="2.2"/><circle cx="1219" cy="444" r="2.4"/><circle cx="1243" cy="445" r="1.9"/><circle cx="1282" cy="450" r="2.8"/><circle cx="1312" cy="451" r="2.7"/><circle cx="1344" cy="445" r="2.9"/><circle cx="1367" cy="444" r="3.6"/><circle cx="1401" cy="444" r="2.5"/><circle cx="1437" cy="449" r="2.7"/><circle cx="1460" cy="445" r="1.6"/><circle cx="-4" cy="476" r="9.6"/><circle cx="23" cy="480" r="8.6"/><circle cx="53" cy="477" r="9.3"/><circle cx="87" cy="479" r="8.1"/><circle cx="114" cy="473" r="10.1"/><circle cx="150" cy="477" r="10.4"/><circle cx="175" cy="474" r="10.2"/><circle cx="212" cy="471" r="10.6"/><circle cx="242" cy="479" r="8.7"/><circle cx="272" cy="480" r="10.3"/><circle cx="303" cy="479" r="10.6"/><circle cx="336" cy="477" r="10.3"/><circle cx="360" cy="474" r="9.1"/><circle cx="391" cy="478" r="7.5"/><circle cx="427" cy="473" r="8.1"/><circle cx="458" cy="472" r="8.3"/><circle cx="492" cy="480" r="7.5"/><circle cx="518" cy="477" r="7.1"/><circle cx="553" cy="472" r="7.7"/><circle cx="579" cy="470" r="6.2"/><circle cx="607" cy="474" r="6.6"/><circle cx="648" cy="477" r="5.8"/><circle cx="676" cy="473" r="6.4"/><circle cx="707" cy="479" r="6.9"/><circle cx="735" cy="473" r="5.7"/><circle cx="765" cy="478" r="5.5"/><circle cx="800" cy="472" r="5.7"/><circle cx="834" cy="472" r="5.1"/><circle cx="857" cy="471" r="4.6"/><circle cx="888" cy="478" r="4.6"/><circle cx="924" cy="480" r="3.6"/><circle cx="949" cy="471" r="4.0"/><circle cx="987" cy="477" r="3.8"/><circle cx="1019" cy="474" r="3.1"/><circle cx="1047" cy="470" r="3.1"/><circle cx="1072" cy="472" r="2.7"/><circle cx="1108" cy="472" r="3.1"/><circle cx="1142" cy="474" r="2.4"/><circle cx="1172" cy="478" r="2.9"/><circle cx="1202" cy="476" r="2.6"/><circle cx="1234" cy="480" r="1.9"/><circle cx="1266" cy="477" r="2.7"/><circle cx="1289" cy="475" r="3.0"/><circle cx="1326" cy="475" r="3.8"/><circle cx="1352" cy="472" r="4.0"/><circle cx="1389" cy="480" r="4.2"/><circle cx="1416" cy="475" r="3.3"/><circle cx="1452" cy="474" r="2.8"/><circle cx="1480" cy="474" r="1.7"/><circle cx="5" cy="497" r="10.7"/><circle cx="38" cy="498" r="8.3"/><circle cx="73" cy="505" r="7.9"/><circle cx="102" cy="499" r="8.9"/><circle cx="133" cy="498" r="10.2"/><circle cx="161" cy="499" r="9.7"/><circle cx="190" cy="497" r="9.3"/><circle cx="224" cy="506" r="9.6"/><circle cx="253" cy="498" r="9.2"/><circle cx="286" cy="500" r="10.0"/><circle cx="315" cy="504" r="7.6"/><circle cx="353" cy="507" r="9.0"/><circle cx="378" cy="504" r="9.7"/><circle cx="413" cy="497" r="8.5"/><circle cx="438" cy="503" r="9.6"/><circle cx="476" cy="500" r="8.3"/><circle cx="502" cy="499" r="8.6"/><circle cx="537" cy="500" r="7.5"/><circle cx="567" cy="504" r="7.3"/><circle cx="593" cy="498" r="6.4"/><circle cx="631" cy="502" r="7.1"/><circle cx="657" cy="501" r="5.9"/><circle cx="694" cy="503" r="5.5"/><circle cx="723" cy="503" r="6.2"/><circle cx="754" cy="503" r="6.3"/><circle cx="787" cy="501" r="5.6"/><circle cx="812" cy="501" r="5.0"/><circle cx="846" cy="501" r="4.7"/><circle cx="879" cy="505" r="4.9"/><circle cx="910" cy="501" r="4.6"/><circle cx="935" cy="500" r="3.6"/><circle cx="971" cy="506" r="3.7"/><circle cx="998" cy="498" r="3.3"/><circle cx="1032" cy="506" r="3.0"/><circle cx="1059" cy="505" r="3.0"/><circle cx="1096" cy="501" r="3.0"/><circle cx="1121" cy="500" r="2.8"/><circle cx="1152" cy="504" r="2.3"/><circle cx="1187" cy="505" r="2.3"/><circle cx="1213" cy="498" r="1.9"/><circle cx="1250" cy="503" r="2.3"/><circle cx="1278" cy="503" r="3.3"/><circle cx="1305" cy="501" r="3.9"/><circle cx="1345" cy="501" r="5.1"/><circle cx="1375" cy="503" r="4.0"/><circle cx="1406" cy="498" r="4.1"/><circle cx="1429" cy="498" r="3.4"/><circle cx="1461" cy="507" r="2.8"/><circle cx="1499" cy="507" r="1.7"/><circle cx="-13" cy="526" r="10.3"/><circle cx="21" cy="528" r="8.8"/><circle cx="55" cy="527" r="9.6"/><circle cx="83" cy="532" r="9.5"/><circle cx="111" cy="529" r="7.5"/><circle cx="151" cy="525" r="7.9"/><circle cx="181" cy="530" r="8.9"/><circle cx="208" cy="529" r="7.7"/><circle cx="240" cy="526" r="9.0"/><circle cx="267" cy="525" r="7.7"/><circle cx="302" cy="530" r="7.2"/><circle cx="338" cy="532" r="8.1"/><circle cx="361" cy="532" r="9.7"/><circle cx="392" cy="531" r="9.2"/><circle cx="430" cy="526" r="7.3"/><circle cx="454" cy="526" r="9.3"/><circle cx="492" cy="529" r="7.0"/><circle cx="518" cy="526" r="8.1"/><circle cx="552" cy="532" r="7.3"/><circle cx="581" cy="529" r="7.0"/><circle cx="612" cy="531" r="7.5"/><circle cx="641" cy="530" r="6.0"/><circle cx="669" cy="528" r="6.2"/><circle cx="700" cy="525" r="6.0"/><circle cx="740" cy="532" r="4.9"/><circle cx="765" cy="528" r="5.2"/><circle cx="794" cy="530" r="5.9"/><circle cx="828" cy="526" r="4.5"/><circle cx="855" cy="532" r="4.5"/><circle cx="893" cy="532" r="4.0"/><circle cx="919" cy="527" r="4.7"/><circle cx="955" cy="527" r="4.0"/><circle cx="983" cy="529" r="4.2"/><circle cx="1013" cy="532" r="4.1"/><circle cx="1047" cy="534" r="3.8"/><circle cx="1074" cy="534" r="2.9"/><circle cx="1111" cy="525" r="2.8"/><circle cx="1138" cy="532" r="2.9"/><circle cx="1167" cy="533" r="2.9"/><circle cx="1201" cy="524" r="2.2"/><circle cx="1230" cy="528" r="2.8"/><circle cx="1264" cy="532" r="3.1"/><circle cx="1291" cy="531" r="4.1"/><circle cx="1322" cy="525" r="4.2"/><circle cx="1355" cy="529" r="5.1"/><circle cx="1388" cy="527" r="4.2"/><circle cx="1420" cy="527" r="4.2"/><circle cx="1448" cy="527" r="3.0"/><circle cx="1478" cy="527" r="2.2"/><circle cx="1506" cy="529" r="1.3"/><circle cx="10" cy="559" r="9.4"/><circle cx="41" cy="558" r="8.2"/><circle cx="70" cy="557" r="8.4"/><circle cx="104" cy="559" r="7.0"/><circle cx="134" cy="557" r="8.4"/><circle cx="167" cy="551" r="8.2"/><circle cx="192" cy="560" r="7.2"/><circle cx="225" cy="552" r="8.9"/><circle cx="255" cy="558" r="7.6"/><circle cx="290" cy="551" r="7.5"/><circle cx="320" cy="560" r="8.8"/><circle cx="346" cy="552" r="8.8"/><circle cx="382" cy="551" r="9.4"/><circle cx="411" cy="551" r="8.2"/><circle cx="440" cy="552" r="9.2"/><circle cx="477" cy="552" r="7.9"/><circle cx="501" cy="557" r="6.9"/><circle cx="533" cy="555" r="7.5"/><circle cx="565" cy="557" r="8.4"/><circle cx="601" cy="560" r="7.9"/><circle cx="625" cy="553" r="6.8"/><circle cx="660" cy="557" r="6.2"/><circle cx="694" cy="554" r="5.3"/><circle cx="716" cy="553" r="6.5"/><circle cx="755" cy="551" r="5.2"/><circle cx="780" cy="559" r="6.2"/><circle cx="811" cy="552" r="6.0"/><circle cx="849" cy="558" r="4.9"/><circle cx="878" cy="558" r="4.8"/><circle cx="904" cy="556" r="4.8"/><circle cx="936" cy="557" r="3.8"/><circle cx="973" cy="553" r="3.6"/><circle cx="1004" cy="560" r="4.2"/><circle cx="1034" cy="559" r="3.8"/><circle cx="1062" cy="552" r="3.5"/><circle cx="1096" cy="559" r="2.6"/><circle cx="1119" cy="558" r="2.9"/><circle cx="1158" cy="561" r="2.6"/><circle cx="1187" cy="557" r="2.6"/><circle cx="1215" cy="557" r="1.9"/><circle cx="1252" cy="558" r="3.9"/><circle cx="1278" cy="553" r="4.3"/><circle cx="1311" cy="556" r="4.6"/><circle cx="1336" cy="555" r="5.2"/><circle cx="1369" cy="553" r="5.6"/><circle cx="1404" cy="560" r="5.5"/><circle cx="1429" cy="559" r="4.7"/><circle cx="1467" cy="557" r="3.1"/><circle cx="1494" cy="551" r="2.3"/><circle cx="1522" cy="558" r="1.4"/><circle cx="-9" cy="578" r="8.9"/><circle cx="24" cy="587" r="8.1"/><circle cx="58" cy="585" r="9.1"/><circle cx="85" cy="587" r="7.6"/><circle cx="111" cy="581" r="7.5"/><circle cx="152" cy="582" r="7.3"/><circle cx="180" cy="579" r="7.4"/><circle cx="208" cy="579" r="8.1"/><circle cx="239" cy="586" r="7.4"/><circle cx="276" cy="580" r="7.9"/><circle cx="299" cy="578" r="7.4"/><circle cx="337" cy="581" r="7.9"/><circle cx="364" cy="580" r="8.1"/><circle cx="391" cy="581" r="7.5"/><circle cx="429" cy="585" r="8.6"/><circle cx="458" cy="586" r="8.7"/><circle cx="484" cy="579" r="8.5"/><circle cx="522" cy="588" r="8.3"/><circle cx="547" cy="583" r="7.8"/><circle cx="582" cy="579" r="8.3"/><circle cx="612" cy="580" r="8.1"/><circle cx="642" cy="578" r="7.1"/><circle cx="672" cy="580" r="6.0"/><circle cx="706" cy="581" r="6.4"/><circle cx="740" cy="588" r="6.5"/><circle cx="771" cy="580" r="6.1"/><circle cx="794" cy="583" r="4.7"/><circle cx="825" cy="587" r="4.6"/><circle cx="862" cy="583" r="4.2"/><circle cx="894" cy="578" r="5.3"/><circle cx="925" cy="583" r="4.4"/><circle cx="948" cy="585" r="3.6"/><circle cx="984" cy="587" r="4.2"/><circle cx="1011" cy="585" r="3.9"/><circle cx="1044" cy="585" r="3.5"/><circle cx="1076" cy="583" r="2.9"/><circle cx="1106" cy="587" r="2.8"/><circle cx="1142" cy="581" r="2.5"/><circle cx="1165" cy="587" r="2.8"/><circle cx="1206" cy="584" r="2.0"/><circle cx="1229" cy="578" r="3.0"/><circle cx="1264" cy="587" r="4.0"/><circle cx="1291" cy="580" r="4.5"/><circle cx="1320" cy="583" r="5.8"/><circle cx="1355" cy="587" r="6.2"/><circle cx="1390" cy="583" r="5.2"/><circle cx="1413" cy="584" r="6.0"/><circle cx="1445" cy="585" r="3.9"/><circle cx="1482" cy="586" r="3.2"/><circle cx="1508" cy="579" r="2.2"/><circle cx="6" cy="606" r="7.4"/><circle cx="40" cy="611" r="6.5"/><circle cx="70" cy="605" r="7.4"/><circle cx="104" cy="607" r="8.2"/><circle cx="129" cy="608" r="8.1"/><circle cx="158" cy="610" r="7.5"/><circle cx="196" cy="614" r="7.8"/><circle cx="222" cy="606" r="7.4"/><circle cx="253" cy="610" r="6.4"/><circle cx="288" cy="609" r="6.4"/><circle cx="314" cy="614" r="8.2"/><circle cx="352" cy="608" r="8.8"/><circle cx="376" cy="612" r="8.7"/><circle cx="408" cy="605" r="6.9"/><circle cx="437" cy="612" r="8.1"/><circle cx="472" cy="606" r="8.2"/><circle cx="500" cy="606" r="7.9"/><circle cx="536" cy="612" r="8.1"/><circle cx="562" cy="607" r="6.5"/><circle cx="596" cy="605" r="7.9"/><circle cx="629" cy="613" r="6.7"/><circle cx="663" cy="613" r="7.1"/><circle cx="693" cy="607" r="5.9"/><circle cx="716" cy="612" r="5.9"/><circle cx="756" cy="607" r="5.5"/><circle cx="786" cy="614" r="5.8"/><circle cx="817" cy="614" r="4.8"/><circle cx="846" cy="605" r="5.4"/><circle cx="880" cy="610" r="4.3"/><circle cx="907" cy="605" r="4.6"/><circle cx="933" cy="609" r="4.8"/><circle cx="971" cy="613" r="4.0"/><circle cx="999" cy="605" r="4.1"/><circle cx="1031" cy="609" r="3.1"/><circle cx="1061" cy="605" r="2.8"/><circle cx="1088" cy="609" r="2.7"/><circle cx="1127" cy="611" r="3.1"/><circle cx="1155" cy="606" r="2.5"/><circle cx="1189" cy="610" r="2.5"/><circle cx="1218" cy="605" r="2.4"/><circle cx="1247" cy="613" r="4.3"/><circle cx="1279" cy="607" r="4.3"/><circle cx="1310" cy="609" r="6.9"/><circle cx="1338" cy="607" r="5.8"/><circle cx="1367" cy="613" r="7.9"/><circle cx="1399" cy="605" r="6.2"/><circle cx="1431" cy="611" r="5.6"/><circle cx="1467" cy="607" r="3.7"/><circle cx="1493" cy="612" r="2.4"/><circle cx="1530" cy="611" r="1.4"/><circle cx="-12" cy="639" r="6.6"/><circle cx="22" cy="641" r="7.8"/><circle cx="57" cy="641" r="7.2"/><circle cx="89" cy="638" r="7.1"/><circle cx="114" cy="635" r="7.1"/><circle cx="144" cy="638" r="7.6"/><circle cx="180" cy="634" r="5.9"/><circle cx="208" cy="636" r="7.6"/><circle cx="240" cy="636" r="7.1"/><circle cx="272" cy="638" r="7.0"/><circle cx="303" cy="634" r="6.1"/><circle cx="332" cy="640" r="7.9"/><circle cx="362" cy="637" r="7.2"/><circle cx="395" cy="633" r="8.0"/><circle cx="422" cy="634" r="6.9"/><circle cx="454" cy="633" r="6.5"/><circle cx="488" cy="633" r="7.7"/><circle cx="520" cy="638" r="7.1"/><circle cx="551" cy="634" r="7.0"/><circle cx="583" cy="633" r="7.4"/><circle cx="613" cy="641" r="6.9"/><circle cx="643" cy="639" r="6.0"/><circle cx="673" cy="636" r="6.6"/><circle cx="707" cy="633" r="6.7"/><circle cx="741" cy="636" r="6.4"/><circle cx="768" cy="635" r="4.7"/><circle cx="793" cy="637" r="5.6"/><circle cx="830" cy="639" r="4.9"/><circle cx="862" cy="637" r="5.0"/><circle cx="891" cy="638" r="4.8"/><circle cx="918" cy="638" r="4.7"/><circle cx="952" cy="641" r="4.1"/><circle cx="981" cy="636" r="3.7"/><circle cx="1012" cy="640" r="3.2"/><circle cx="1048" cy="633" r="3.3"/><circle cx="1082" cy="632" r="3.4"/><circle cx="1103" cy="641" r="3.2"/><circle cx="1138" cy="638" r="2.6"/><circle cx="1167" cy="635" r="2.4"/><circle cx="1205" cy="632" r="2.3"/><circle cx="1232" cy="637" r="3.6"/><circle cx="1264" cy="635" r="5.2"/><circle cx="1295" cy="634" r="5.8"/><circle cx="1329" cy="632" r="7.3"/><circle cx="1356" cy="634" r="6.9"/><circle cx="1384" cy="636" r="6.7"/><circle cx="1419" cy="634" r="5.8"/><circle cx="1449" cy="639" r="4.9"/><circle cx="1477" cy="641" r="3.4"/><circle cx="1509" cy="634" r="2.2"/><circle cx="12" cy="666" r="5.9"/><circle cx="43" cy="658" r="5.8"/><circle cx="73" cy="661" r="5.6"/><circle cx="97" cy="663" r="7.1"/><circle cx="127" cy="660" r="5.4"/><circle cx="158" cy="661" r="6.2"/><circle cx="198" cy="665" r="6.9"/><circle cx="225" cy="667" r="6.6"/><circle cx="253" cy="662" r="6.3"/><circle cx="283" cy="667" r="6.3"/><circle cx="315" cy="663" r="7.1"/><circle cx="346" cy="664" r="5.7"/><circle cx="377" cy="660" r="6.8"/><circle cx="412" cy="660" r="7.4"/><circle cx="442" cy="666" r="8.1"/><circle cx="471" cy="668" r="6.8"/><circle cx="504" cy="660" r="6.0"/><circle cx="536" cy="659" r="5.8"/><circle cx="561" cy="664" r="6.0"/><circle cx="594" cy="666" r="6.4"/><circle cx="624" cy="665" r="7.3"/><circle cx="660" cy="663" r="6.1"/><circle cx="692" cy="667" r="6.3"/><circle cx="718" cy="666" r="4.8"/><circle cx="748" cy="663" r="4.8"/><circle cx="783" cy="661" r="5.9"/><circle cx="813" cy="666" r="5.7"/><circle cx="844" cy="666" r="4.8"/><circle cx="874" cy="659" r="4.9"/><circle cx="911" cy="665" r="4.2"/><circle cx="938" cy="662" r="4.1"/><circle cx="971" cy="658" r="3.9"/><circle cx="1000" cy="660" r="3.9"/><circle cx="1028" cy="662" r="3.1"/><circle cx="1062" cy="662" r="3.2"/><circle cx="1092" cy="666" r="2.9"/><circle cx="1120" cy="663" r="2.5"/><circle cx="1152" cy="668" r="2.4"/><circle cx="1188" cy="660" r="2.4"/><circle cx="1213" cy="660" r="2.3"/><circle cx="1243" cy="667" r="4.3"/><circle cx="1277" cy="658" r="5.4"/><circle cx="1311" cy="659" r="6.9"/><circle cx="1336" cy="660" r="7.9"/><circle cx="1374" cy="660" r="7.3"/><circle cx="1406" cy="664" r="6.1"/><circle cx="1430" cy="659" r="4.6"/><circle cx="1465" cy="664" r="3.8"/><circle cx="1497" cy="664" r="2.7"/><circle cx="1526" cy="667" r="1.5"/><circle cx="-7" cy="689" r="5.9"/><circle cx="21" cy="692" r="7.1"/><circle cx="52" cy="688" r="6.1"/><circle cx="84" cy="691" r="6.4"/><circle cx="119" cy="693" r="6.1"/><circle cx="152" cy="689" r="5.5"/><circle cx="180" cy="688" r="6.3"/><circle cx="208" cy="691" r="5.7"/><circle cx="239" cy="685" r="5.5"/><circle cx="271" cy="695" r="5.1"/><circle cx="306" cy="695" r="6.4"/><circle cx="331" cy="685" r="6.9"/><circle cx="360" cy="688" r="7.1"/><circle cx="397" cy="693" r="7.0"/><circle cx="423" cy="690" r="5.7"/><circle cx="456" cy="690" r="7.3"/><circle cx="486" cy="692" r="5.8"/><circle cx="517" cy="686" r="6.7"/><circle cx="551" cy="692" r="6.2"/><circle cx="585" cy="692" r="6.4"/><circle cx="616" cy="687" r="5.8"/><circle cx="644" cy="691" r="6.8"/><circle cx="676" cy="685" r="6.5"/><circle cx="705" cy="687" r="6.0"/><circle cx="737" cy="694" r="5.3"/><circle cx="765" cy="690" r="5.0"/><circle cx="797" cy="691" r="4.4"/><circle cx="827" cy="686" r="4.1"/><circle cx="860" cy="692" r="4.5"/><circle cx="895" cy="691" r="4.7"/><circle cx="920" cy="694" r="4.1"/><circle cx="956" cy="687" r="4.5"/><circle cx="986" cy="687" r="3.9"/><circle cx="1012" cy="689" r="3.3"/><circle cx="1044" cy="689" r="2.8"/><circle cx="1076" cy="686" r="3.2"/><circle cx="1107" cy="692" r="2.6"/><circle cx="1144" cy="694" r="2.6"/><circle cx="1173" cy="694" r="2.6"/><circle cx="1200" cy="691" r="1.8"/><circle cx="1231" cy="688" r="3.3"/><circle cx="1258" cy="693" r="3.6"/><circle cx="1293" cy="690" r="6.1"/><circle cx="1326" cy="686" r="7.0"/><circle cx="1353" cy="691" r="6.9"/><circle cx="1392" cy="689" r="5.9"/><circle cx="1416" cy="695" r="5.2"/><circle cx="1446" cy="690" r="4.6"/><circle cx="1484" cy="686" r="2.8"/><circle cx="1513" cy="690" r="2.0"/><circle cx="3" cy="719" r="5.3"/><circle cx="35" cy="717" r="5.5"/><circle cx="72" cy="717" r="5.6"/><circle cx="99" cy="712" r="6.0"/><circle cx="130" cy="720" r="4.5"/><circle cx="162" cy="717" r="4.5"/><circle cx="189" cy="721" r="5.7"/><circle cx="229" cy="717" r="5.6"/><circle cx="257" cy="717" r="4.7"/><circle cx="288" cy="716" r="5.7"/><circle cx="313" cy="715" r="4.8"/><circle cx="351" cy="717" r="5.3"/><circle cx="382" cy="717" r="5.5"/><circle cx="409" cy="712" r="5.2"/><circle cx="437" cy="721" r="6.8"/><circle cx="473" cy="721" r="6.2"/><circle cx="505" cy="713" r="6.1"/><circle cx="536" cy="716" r="6.4"/><circle cx="564" cy="718" r="5.5"/><circle cx="596" cy="716" r="6.1"/><circle cx="623" cy="714" r="6.3"/><circle cx="655" cy="717" r="6.5"/><circle cx="691" cy="719" r="5.8"/><circle cx="725" cy="716" r="5.0"/><circle cx="754" cy="712" r="4.9"/><circle cx="780" cy="717" r="5.2"/><circle cx="817" cy="717" r="5.0"/><circle cx="840" cy="718" r="5.2"/><circle cx="877" cy="717" r="4.5"/><circle cx="906" cy="714" r="3.9"/><circle cx="940" cy="717" r="3.4"/><circle cx="970" cy="720" r="3.9"/><circle cx="996" cy="721" r="3.1"/><circle cx="1031" cy="716" r="2.8"/><circle cx="1059" cy="714" r="2.6"/><circle cx="1088" cy="718" r="2.9"/><circle cx="1121" cy="721" r="2.4"/><circle cx="1154" cy="721" r="2.4"/><circle cx="1185" cy="719" r="2.2"/><circle cx="1215" cy="713" r="2.6"/><circle cx="1250" cy="718" r="3.3"/><circle cx="1281" cy="714" r="5.3"/><circle cx="1311" cy="718" r="5.0"/><circle cx="1339" cy="719" r="5.6"/><circle cx="1367" cy="716" r="7.2"/><circle cx="1404" cy="714" r="4.9"/><circle cx="1437" cy="720" r="4.8"/><circle cx="1462" cy="719" r="3.1"/><circle cx="1492" cy="715" r="2.9"/><circle cx="1522" cy="713" r="1.6"/><circle cx="-8" cy="748" r="5.7"/><circle cx="22" cy="745" r="6.1"/><circle cx="55" cy="748" r="4.8"/><circle cx="89" cy="747" r="4.7"/><circle cx="111" cy="745" r="4.9"/><circle cx="152" cy="744" r="4.7"/><circle cx="181" cy="740" r="4.8"/><circle cx="208" cy="741" r="4.3"/><circle cx="239" cy="746" r="4.7"/><circle cx="269" cy="739" r="5.3"/><circle cx="305" cy="747" r="5.3"/><circle cx="329" cy="741" r="5.0"/><circle cx="362" cy="747" r="4.7"/><circle cx="390" cy="743" r="4.7"/><circle cx="421" cy="745" r="5.8"/><circle cx="457" cy="739" r="6.0"/><circle cx="488" cy="742" r="5.3"/><circle cx="516" cy="744" r="5.5"/><circle cx="551" cy="745" r="5.3"/><circle cx="582" cy="741" r="6.2"/><circle cx="609" cy="745" r="6.1"/><circle cx="646" cy="744" r="6.2"/><circle cx="679" cy="747" r="5.0"/><circle cx="703" cy="745" r="4.5"/><circle cx="733" cy="740" r="5.2"/><circle cx="766" cy="748" r="5.2"/><circle cx="798" cy="742" r="4.4"/><circle cx="825" cy="740" r="5.1"/><circle cx="858" cy="739" r="5.1"/><circle cx="890" cy="746" r="4.3"/><circle cx="927" cy="739" r="4.0"/><circle cx="954" cy="739" r="4.3"/><circle cx="982" cy="745" r="3.0"/><circle cx="1011" cy="740" r="3.6"/><circle cx="1050" cy="748" r="2.9"/><circle cx="1073" cy="746" r="2.7"/><circle cx="1111" cy="745" r="2.5"/><circle cx="1136" cy="740" r="2.0"/><circle cx="1169" cy="742" r="2.4"/><circle cx="1196" cy="746" r="1.7"/><circle cx="1228" cy="748" r="2.4"/><circle cx="1264" cy="745" r="3.8"/><circle cx="1292" cy="740" r="5.2"/><circle cx="1324" cy="745" r="6.1"/><circle cx="1352" cy="743" r="5.6"/><circle cx="1391" cy="745" r="4.9"/><circle cx="1418" cy="739" r="4.9"/><circle cx="1445" cy="740" r="4.0"/><circle cx="1480" cy="741" r="2.8"/><circle cx="1509" cy="746" r="1.5"/><circle cx="4" cy="767" r="5.7"/><circle cx="40" cy="767" r="4.8"/><circle cx="71" cy="768" r="4.3"/><circle cx="102" cy="774" r="5.2"/><circle cx="135" cy="768" r="4.2"/><circle cx="164" cy="772" r="4.5"/><circle cx="194" cy="768" r="4.0"/><circle cx="220" cy="766" r="4.6"/><circle cx="251" cy="774" r="5.2"/><circle cx="283" cy="775" r="4.8"/><circle cx="313" cy="769" r="4.5"/><circle cx="347" cy="766" r="4.6"/><circle cx="375" cy="770" r="5.1"/><circle cx="408" cy="775" r="5.9"/><circle cx="441" cy="774" r="5.2"/><circle cx="475" cy="773" r="5.2"/><circle cx="506" cy="769" r="4.9"/><circle cx="534" cy="767" r="5.9"/><circle cx="563" cy="771" r="6.0"/><circle cx="597" cy="775" r="5.9"/><circle cx="629" cy="773" r="5.7"/><circle cx="663" cy="771" r="5.4"/><circle cx="690" cy="771" r="5.8"/><circle cx="719" cy="767" r="4.9"/><circle cx="750" cy="773" r="5.0"/><circle cx="778" cy="768" r="4.9"/><circle cx="812" cy="772" r="4.6"/><circle cx="841" cy="772" r="5.2"/><circle cx="871" cy="772" r="4.6"/><circle cx="908" cy="771" r="4.3"/><circle cx="942" cy="774" r="4.0"/><circle cx="972" cy="772" r="4.2"/><circle cx="1004" cy="766" r="3.1"/><circle cx="1028" cy="774" r="3.8"/><circle cx="1059" cy="770" r="3.4"/><circle cx="1095" cy="771" r="3.1"/><circle cx="1128" cy="766" r="2.9"/><circle cx="1152" cy="772" r="2.5"/><circle cx="1183" cy="769" r="2.3"/><circle cx="1219" cy="775" r="1.8"/><circle cx="1249" cy="773" r="3.5"/><circle cx="1281" cy="768" r="3.6"/><circle cx="1306" cy="768" r="4.8"/><circle cx="1339" cy="767" r="4.6"/><circle cx="1373" cy="774" r="4.5"/><circle cx="1403" cy="775" r="4.4"/><circle cx="1434" cy="774" r="3.3"/><circle cx="1468" cy="773" r="3.0"/><circle cx="1494" cy="770" r="2.3"/><circle cx="-12" cy="796" r="5.5"/><circle cx="21" cy="794" r="4.8"/><circle cx="55" cy="802" r="5.4"/><circle cx="89" cy="794" r="5.0"/><circle cx="115" cy="801" r="4.8"/><circle cx="148" cy="802" r="4.9"/><circle cx="174" cy="797" r="3.8"/><circle cx="210" cy="795" r="4.7"/><circle cx="239" cy="792" r="5.0"/><circle cx="267" cy="795" r="4.6"/><circle cx="298" cy="800" r="4.9"/><circle cx="329" cy="799" r="4.2"/><circle cx="364" cy="793" r="4.6"/><circle cx="395" cy="798" r="5.2"/><circle cx="430" cy="796" r="4.9"/><circle cx="454" cy="800" r="5.0"/><circle cx="485" cy="794" r="5.1"/><circle cx="522" cy="797" r="5.8"/><circle cx="550" cy="798" r="4.8"/><circle cx="580" cy="800" r="4.5"/><circle cx="612" cy="795" r="4.9"/><circle cx="641" cy="794" r="5.3"/><circle cx="669" cy="795" r="4.7"/><circle cx="702" cy="801" r="5.2"/><circle cx="740" cy="794" r="4.3"/><circle cx="765" cy="797" r="5.2"/><circle cx="801" cy="801" r="4.0"/><circle cx="824" cy="796" r="4.6"/><circle cx="855" cy="796" r="4.1"/><circle cx="895" cy="794" r="4.3"/><circle cx="919" cy="801" r="3.9"/><circle cx="952" cy="795" r="3.8"/><circle cx="989" cy="800" r="4.2"/><circle cx="1014" cy="802" r="4.3"/><circle cx="1047" cy="795" r="2.9"/><circle cx="1077" cy="797" r="3.6"/><circle cx="1113" cy="801" r="2.7"/><circle cx="1144" cy="799" r="2.2"/><circle cx="1167" cy="802" r="2.6"/><circle cx="1203" cy="799" r="1.7"/><circle cx="1236" cy="795" r="2.6"/><circle cx="1263" cy="797" r="3.1"/><circle cx="1298" cy="801" r="3.8"/><circle cx="1329" cy="794" r="4.3"/><circle cx="1354" cy="793" r="4.6"/><circle cx="1382" cy="802" r="4.8"/><circle cx="1418" cy="793" r="3.6"/><circle cx="1452" cy="795" r="2.6"/><circle cx="1479" cy="798" r="1.9"/><circle cx="12" cy="823" r="6.1"/><circle cx="41" cy="825" r="5.1"/><circle cx="68" cy="827" r="5.5"/><circle cx="105" cy="820" r="4.8"/><circle cx="134" cy="821" r="3.8"/><circle cx="166" cy="827" r="4.6"/><circle cx="192" cy="824" r="4.8"/><circle cx="220" cy="826" r="4.7"/><circle cx="255" cy="829" r="4.6"/><circle cx="290" cy="821" r="4.4"/><circle cx="315" cy="824" r="4.9"/><circle cx="353" cy="828" r="5.2"/><circle cx="384" cy="827" r="5.1"/><circle cx="406" cy="823" r="4.8"/><circle cx="438" cy="828" r="4.7"/><circle cx="470" cy="820" r="5.1"/><circle cx="502" cy="829" r="5.2"/><circle cx="534" cy="821" r="4.3"/><circle cx="567" cy="825" r="5.0"/><circle cx="597" cy="823" r="5.6"/><circle cx="623" cy="822" r="5.4"/><circle cx="657" cy="823" r="4.8"/><circle cx="687" cy="827" r="4.2"/><circle cx="721" cy="826" r="4.6"/><circle cx="754" cy="823" r="4.9"/><circle cx="779" cy="822" r="4.8"/><circle cx="815" cy="824" r="4.1"/><circle cx="845" cy="828" r="4.4"/><circle cx="873" cy="825" r="4.4"/><circle cx="903" cy="820" r="4.9"/><circle cx="941" cy="827" r="4.6"/><circle cx="972" cy="828" r="4.0"/><circle cx="998" cy="829" r="4.8"/><circle cx="1032" cy="826" r="3.7"/><circle cx="1057" cy="823" r="3.4"/><circle cx="1094" cy="826" r="3.5"/><circle cx="1128" cy="819" r="2.6"/><circle cx="1150" cy="823" r="3.0"/><circle cx="1185" cy="827" r="2.1"/><circle cx="1215" cy="827" r="1.9"/><circle cx="1250" cy="825" r="2.4"/><circle cx="1274" cy="823" r="3.4"/><circle cx="1308" cy="822" r="4.2"/><circle cx="1341" cy="826" r="3.9"/><circle cx="1373" cy="823" r="3.7"/><circle cx="1400" cy="821" r="3.9"/><circle cx="1429" cy="820" r="3.1"/><circle cx="1469" cy="827" r="2.1"/><circle cx="-4" cy="846" r="5.1"/><circle cx="24" cy="856" r="6.2"/><circle cx="57" cy="849" r="5.5"/><circle cx="89" cy="855" r="5.6"/><circle cx="119" cy="854" r="4.9"/><circle cx="146" cy="852" r="4.9"/><circle cx="179" cy="846" r="4.2"/><circle cx="213" cy="853" r="4.3"/><circle cx="244" cy="854" r="4.0"/><circle cx="273" cy="855" r="3.7"/><circle cx="306" cy="850" r="4.9"/><circle cx="328" cy="849" r="4.2"/><circle cx="361" cy="853" r="5.0"/><circle cx="396" cy="855" r="4.0"/><circle cx="424" cy="850" r="5.1"/><circle cx="459" cy="856" r="5.2"/><circle cx="488" cy="853" r="5.2"/><circle cx="519" cy="853" r="5.2"/><circle cx="553" cy="848" r="4.1"/><circle cx="583" cy="854" r="4.2"/><circle cx="616" cy="854" r="4.2"/><circle cx="640" cy="853" r="4.9"/><circle cx="671" cy="855" r="4.3"/><circle cx="708" cy="856" r="4.2"/><circle cx="738" cy="852" r="5.4"/><circle cx="766" cy="850" r="4.4"/><circle cx="801" cy="849" r="5.4"/><circle cx="824" cy="855" r="4.1"/><circle cx="862" cy="856" r="4.6"/><circle cx="892" cy="850" r="4.2"/><circle cx="925" cy="851" r="5.2"/><circle cx="948" cy="848" r="4.2"/><circle cx="987" cy="846" r="3.7"/><circle cx="1014" cy="850" r="4.8"/><circle cx="1050" cy="848" r="4.4"/><circle cx="1076" cy="854" r="4.0"/><circle cx="1104" cy="851" r="3.4"/><circle cx="1139" cy="852" r="3.2"/><circle cx="1169" cy="851" r="2.9"/><circle cx="1203" cy="848" r="1.9"/><circle cx="1230" cy="856" r="2.0"/><circle cx="1267" cy="856" r="2.3"/><circle cx="1293" cy="854" r="2.7"/><circle cx="1330" cy="851" r="3.4"/><circle cx="1358" cy="852" r="3.0"/><circle cx="1388" cy="850" r="3.4"/><circle cx="1421" cy="848" r="2.6"/><circle cx="1447" cy="856" r="2.1"/><circle cx="1479" cy="856" r="1.4"/><circle cx="7" cy="877" r="5.9"/><circle cx="39" cy="873" r="5.3"/><circle cx="67" cy="879" r="5.0"/><circle cx="103" cy="883" r="5.1"/><circle cx="133" cy="878" r="3.9"/><circle cx="165" cy="875" r="4.1"/><circle cx="194" cy="876" r="4.8"/><circle cx="225" cy="883" r="3.7"/><circle cx="255" cy="876" r="4.4"/><circle cx="288" cy="879" r="4.9"/><circle cx="317" cy="877" r="4.7"/><circle cx="349" cy="876" r="5.0"/><circle cx="377" cy="874" r="4.5"/><circle cx="415" cy="881" r="4.9"/><circle cx="443" cy="878" r="4.2"/><circle cx="469" cy="877" r="5.0"/><circle cx="504" cy="883" r="4.9"/><circle cx="535" cy="879" r="4.4"/><circle cx="570" cy="881" r="4.0"/><circle cx="601" cy="880" r="4.3"/><circle cx="630" cy="877" r="4.8"/><circle cx="659" cy="879" r="5.2"/><circle cx="693" cy="878" r="4.5"/><circle cx="723" cy="880" r="4.1"/><circle cx="752" cy="876" r="5.0"/><circle cx="779" cy="876" r="4.4"/><circle cx="811" cy="879" r="5.4"/><circle cx="846" cy="879" r="5.4"/><circle cx="874" cy="877" r="5.3"/><circle cx="904" cy="880" r="5.8"/><circle cx="941" cy="874" r="5.5"/><circle cx="966" cy="874" r="5.0"/><circle cx="998" cy="875" r="4.8"/><circle cx="1031" cy="878" r="4.6"/><circle cx="1063" cy="881" r="4.6"/><circle cx="1095" cy="881" r="3.8"/><circle cx="1125" cy="874" r="2.9"/><circle cx="1154" cy="880" r="2.7"/><circle cx="1190" cy="876" r="2.4"/><circle cx="1216" cy="883" r="2.0"/><circle cx="1245" cy="879" r="2.0"/><circle cx="1277" cy="874" r="2.1"/><circle cx="-11" cy="908" r="5.4"/><circle cx="23" cy="906" r="4.9"/><circle cx="53" cy="901" r="5.3"/><circle cx="87" cy="908" r="5.6"/><circle cx="112" cy="904" r="4.9"/><circle cx="146" cy="909" r="4.4"/><circle cx="182" cy="900" r="4.1"/><circle cx="211" cy="908" r="4.3"/><circle cx="244" cy="907" r="4.2"/><circle cx="273" cy="905" r="3.8"/><circle cx="306" cy="908" r="4.8"/><circle cx="330" cy="908" r="3.7"/><circle cx="364" cy="903" r="4.3"/><circle cx="394" cy="905" r="4.2"/><circle cx="429" cy="906" r="4.0"/><circle cx="454" cy="902" r="4.0"/><circle cx="487" cy="905" r="4.6"/><circle cx="524" cy="902" r="4.0"/><circle cx="550" cy="900" r="4.5"/><circle cx="576" cy="906" r="4.4"/><circle cx="611" cy="910" r="4.0"/><circle cx="638" cy="901" r="4.0"/><circle cx="676" cy="907" r="4.3"/><circle cx="709" cy="901" r="4.2"/><circle cx="737" cy="905" r="5.1"/><circle cx="765" cy="909" r="5.0"/><circle cx="800" cy="906" r="4.4"/><circle cx="830" cy="909" r="4.2"/><circle cx="858" cy="903" r="4.7"/><circle cx="894" cy="906" r="4.6"/><circle cx="924" cy="909" r="4.4"/><circle cx="948" cy="906" r="5.7"/><circle cx="985" cy="905" r="4.8"/><circle cx="1016" cy="909" r="5.0"/><circle cx="1048" cy="904" r="5.3"/><circle cx="1080" cy="905" r="4.0"/><circle cx="1106" cy="910" r="4.0"/><circle cx="1135" cy="905" r="3.3"/><circle cx="1171" cy="903" r="3.2"/><circle cx="1201" cy="908" r="2.2"/><circle cx="1236" cy="905" r="2.2"/><circle cx="1262" cy="909" r="2.1"/><circle cx="1294" cy="903" r="1.7"/><circle cx="11" cy="936" r="5.7"/><circle cx="38" cy="936" r="5.7"/><circle cx="70" cy="934" r="5.4"/><circle cx="101" cy="933" r="4.6"/><circle cx="130" cy="927" r="5.0"/><circle cx="166" cy="934" r="5.1"/><circle cx="196" cy="928" r="4.2"/><circle cx="229" cy="928" r="4.9"/><circle cx="258" cy="928" r="4.0"/><circle cx="289" cy="933" r="3.7"/><circle cx="318" cy="928" r="4.8"/><circle cx="349" cy="927" r="4.2"/><circle cx="375" cy="936" r="4.8"/><circle cx="413" cy="927" r="4.8"/><circle cx="439" cy="933" r="4.5"/><circle cx="473" cy="928" r="3.9"/><circle cx="506" cy="928" r="4.0"/><circle cx="539" cy="931" r="3.7"/><circle cx="567" cy="930" r="4.6"/><circle cx="595" cy="935" r="4.6"/><circle cx="624" cy="932" r="4.2"/><circle cx="655" cy="936" r="4.1"/><circle cx="691" cy="927" r="5.1"/><circle cx="725" cy="933" r="4.0"/><circle cx="753" cy="931" r="4.6"/><circle cx="780" cy="928" r="5.3"/><circle cx="815" cy="934" r="5.2"/><circle cx="844" cy="932" r="4.6"/><circle cx="877" cy="931" r="5.5"/><circle cx="904" cy="930" r="4.4"/><circle cx="933" cy="929" r="4.2"/><circle cx="968" cy="930" r="5.5"/><circle cx="995" cy="936" r="4.1"/><circle cx="1034" cy="930" r="4.2"/><circle cx="1063" cy="930" r="3.7"/><circle cx="1089" cy="933" r="4.2"/><circle cx="1128" cy="929" r="3.7"/><circle cx="1153" cy="932" r="2.8"/><circle cx="1185" cy="936" r="2.3"/><circle cx="1216" cy="936" r="2.1"/><circle cx="1251" cy="932" r="1.9"/><circle cx="1281" cy="933" r="1.8"/><circle cx="-4" cy="955" r="5.4"/><circle cx="26" cy="954" r="5.8"/><circle cx="53" cy="963" r="5.8"/><circle cx="82" cy="954" r="5.2"/><circle cx="117" cy="958" r="5.1"/><circle cx="143" cy="957" r="5.2"/><circle cx="176" cy="955" r="4.1"/><circle cx="213" cy="962" r="4.4"/><circle cx="238" cy="957" r="5.1"/><circle cx="275" cy="963" r="5.0"/><circle cx="304" cy="955" r="5.1"/><circle cx="330" cy="961" r="4.2"/><circle cx="359" cy="960" r="4.0"/><circle cx="399" cy="955" r="4.4"/><circle cx="425" cy="954" r="3.9"/><circle cx="455" cy="961" r="4.4"/><circle cx="492" cy="955" r="3.7"/><circle cx="518" cy="957" r="3.7"/><circle cx="553" cy="954" r="4.2"/><circle cx="577" cy="957" r="3.8"/><circle cx="612" cy="963" r="4.4"/><circle cx="642" cy="963" r="3.9"/><circle cx="671" cy="960" r="4.7"/><circle cx="707" cy="959" r="4.7"/><circle cx="734" cy="963" r="4.8"/><circle cx="770" cy="959" r="5.2"/><circle cx="798" cy="963" r="4.6"/><circle cx="834" cy="957" r="4.9"/><circle cx="861" cy="959" r="5.4"/><circle cx="894" cy="955" r="5.4"/><circle cx="922" cy="958" r="4.3"/><circle cx="957" cy="963" r="5.1"/><circle cx="985" cy="954" r="4.4"/><circle cx="1013" cy="954" r="4.4"/><circle cx="1045" cy="958" r="3.8"/><circle cx="1073" cy="963" r="4.1"/><circle cx="1105" cy="958" r="3.4"/><circle cx="1139" cy="955" r="3.3"/><circle cx="1174" cy="960" r="2.9"/><circle cx="1204" cy="959" r="2.2"/><circle cx="1234" cy="957" r="1.7"/><circle cx="1263" cy="962" r="2.0"/><circle cx="12" cy="988" r="6.5"/><circle cx="41" cy="982" r="5.3"/><circle cx="73" cy="985" r="4.7"/><circle cx="103" cy="982" r="4.9"/><circle cx="136" cy="982" r="5.4"/><circle cx="160" cy="988" r="4.6"/><circle cx="194" cy="987" r="5.1"/><circle cx="222" cy="987" r="4.2"/><circle cx="253" cy="988" r="4.1"/><circle cx="286" cy="981" r="4.7"/><circle cx="314" cy="984" r="5.2"/><circle cx="348" cy="985" r="3.7"/><circle cx="377" cy="981" r="4.4"/><circle cx="407" cy="982" r="3.7"/><circle cx="444" cy="987" r="3.8"/><circle cx="471" cy="983" r="4.1"/><circle cx="504" cy="982" r="3.6"/><circle cx="536" cy="983" r="4.2"/><circle cx="562" cy="981" r="3.5"/><circle cx="600" cy="986" r="3.4"/><circle cx="626" cy="987" r="3.7"/><circle cx="662" cy="980" r="4.3"/><circle cx="690" cy="982" r="5.0"/><circle cx="721" cy="982" r="4.8"/><circle cx="747" cy="987" r="4.9"/><circle cx="784" cy="981" r="4.0"/><circle cx="817" cy="989" r="4.3"/><circle cx="849" cy="988" r="4.2"/><circle cx="879" cy="980" r="4.6"/><circle cx="904" cy="982" r="4.9"/><circle cx="933" cy="990" r="4.3"/><circle cx="970" cy="984" r="5.2"/><circle cx="1000" cy="985" r="4.8"/><circle cx="1031" cy="985" r="3.9"/><circle cx="1064" cy="987" r="4.0"/><circle cx="1097" cy="985" r="3.8"/><circle cx="1120" cy="984" r="3.4"/><circle cx="1152" cy="990" r="3.2"/><circle cx="1187" cy="987" r="2.1"/><circle cx="1219" cy="989" r="2.0"/><circle cx="1248" cy="987" r="1.7"/><circle cx="1274" cy="982" r="1.7"/><circle cx="-9" cy="1007" r="5.8"/><circle cx="26" cy="1008" r="5.6"/><circle cx="52" cy="1017" r="5.3"/><circle cx="84" cy="1012" r="4.8"/><circle cx="117" cy="1008" r="5.0"/><circle cx="145" cy="1017" r="5.0"/><circle cx="176" cy="1010" r="4.6"/><circle cx="206" cy="1010" r="5.1"/><circle cx="239" cy="1009" r="4.1"/><circle cx="274" cy="1010" r="4.3"/><circle cx="305" cy="1017" r="4.7"/><circle cx="329" cy="1016" r="4.9"/><circle cx="359" cy="1010" r="4.8"/><circle cx="395" cy="1009" r="4.8"/><circle cx="423" cy="1009" r="4.3"/><circle cx="462" cy="1014" r="3.3"/><circle cx="483" cy="1009" r="4.1"/><circle cx="524" cy="1008" r="4.1"/><circle cx="552" cy="1007" r="4.4"/><circle cx="579" cy="1011" r="4.3"/><circle cx="612" cy="1013" r="3.4"/><circle cx="644" cy="1009" r="4.5"/><circle cx="677" cy="1014" r="4.3"/><circle cx="710" cy="1015" r="4.5"/><circle cx="735" cy="1007" r="5.1"/><circle cx="763" cy="1008" r="4.6"/><circle cx="803" cy="1012" r="4.1"/><circle cx="824" cy="1009" r="4.4"/><circle cx="858" cy="1010" r="5.3"/><circle cx="896" cy="1017" r="4.4"/><circle cx="924" cy="1009" r="4.7"/><circle cx="953" cy="1010" r="5.0"/><circle cx="981" cy="1015" r="4.8"/><circle cx="1016" cy="1008" r="3.7"/><circle cx="1049" cy="1017" r="3.7"/><circle cx="1079" cy="1015" r="4.1"/><circle cx="1104" cy="1009" r="2.9"/><circle cx="1141" cy="1011" r="3.0"/><circle cx="1167" cy="1014" r="2.3"/><circle cx="1200" cy="1013" r="2.3"/><circle cx="1229" cy="1015" r="1.6"/><circle cx="1260" cy="1014" r="1.5"/><circle cx="5" cy="1044" r="7.2"/><circle cx="34" cy="1034" r="6.3"/><circle cx="69" cy="1040" r="6.6"/><circle cx="104" cy="1035" r="6.4"/><circle cx="131" cy="1039" r="4.7"/><circle cx="160" cy="1036" r="4.8"/><circle cx="194" cy="1037" r="4.6"/><circle cx="221" cy="1035" r="5.6"/><circle cx="255" cy="1039" r="4.3"/><circle cx="291" cy="1034" r="5.1"/><circle cx="313" cy="1037" r="4.6"/><circle cx="348" cy="1041" r="4.5"/><circle cx="382" cy="1035" r="4.0"/><circle cx="408" cy="1039" r="4.0"/><circle cx="438" cy="1035" r="3.4"/><circle cx="468" cy="1040" r="4.4"/><circle cx="504" cy="1036" r="4.0"/><circle cx="534" cy="1037" r="4.2"/><circle cx="563" cy="1037" r="3.3"/><circle cx="594" cy="1043" r="3.8"/><circle cx="630" cy="1039" r="3.6"/><circle cx="657" cy="1039" r="3.8"/><circle cx="690" cy="1034" r="4.0"/><circle cx="717" cy="1039" r="4.2"/><circle cx="756" cy="1043" r="4.9"/><circle cx="782" cy="1037" r="4.9"/><circle cx="810" cy="1038" r="3.9"/><circle cx="848" cy="1041" r="5.2"/><circle cx="872" cy="1042" r="5.0"/><circle cx="907" cy="1038" r="5.2"/><circle cx="937" cy="1043" r="5.1"/><circle cx="967" cy="1039" r="4.3"/><circle cx="1004" cy="1043" r="4.0"/><circle cx="1029" cy="1037" r="4.2"/><circle cx="1063" cy="1040" r="3.7"/><circle cx="1094" cy="1034" r="3.3"/><circle cx="1125" cy="1041" r="3.2"/><circle cx="1152" cy="1043" r="2.9"/><circle cx="1187" cy="1042" r="1.9"/><circle cx="1213" cy="1036" r="1.9"/><circle cx="1251" cy="1037" r="1.9"/><circle cx="-7" cy="1063" r="6.3"/><circle cx="26" cy="1066" r="6.8"/><circle cx="56" cy="1068" r="7.3"/><circle cx="90" cy="1062" r="6.5"/><circle cx="111" cy="1062" r="5.3"/><circle cx="143" cy="1062" r="5.0"/><circle cx="181" cy="1069" r="5.4"/><circle cx="209" cy="1068" r="5.5"/><circle cx="236" cy="1065" r="4.7"/><circle cx="271" cy="1071" r="4.6"/><circle cx="300" cy="1067" r="5.2"/><circle cx="331" cy="1065" r="4.7"/><circle cx="368" cy="1061" r="5.0"/><circle cx="396" cy="1070" r="4.2"/><circle cx="428" cy="1061" r="3.7"/><circle cx="458" cy="1064" r="3.9"/><circle cx="493" cy="1066" r="4.1"/><circle cx="520" cy="1063" r="4.4"/><circle cx="549" cy="1061" r="3.7"/><circle cx="580" cy="1063" r="3.7"/><circle cx="608" cy="1070" r="3.8"/><circle cx="641" cy="1066" r="4.0"/><circle cx="673" cy="1069" r="3.9"/><circle cx="709" cy="1069" r="4.3"/><circle cx="733" cy="1068" r="4.7"/><circle cx="770" cy="1061" r="4.0"/><circle cx="793" cy="1067" r="4.8"/><circle cx="831" cy="1067" r="4.4"/><circle cx="862" cy="1066" r="4.9"/><circle cx="888" cy="1066" r="4.8"/><circle cx="918" cy="1066" r="5.1"/><circle cx="949" cy="1068" r="4.6"/><circle cx="988" cy="1071" r="4.3"/><circle cx="1016" cy="1066" r="3.9"/><circle cx="1047" cy="1064" r="4.2"/><circle cx="1077" cy="1065" r="3.5"/><circle cx="1110" cy="1069" r="3.5"/><circle cx="1141" cy="1063" r="2.4"/><circle cx="1166" cy="1062" r="2.5"/><circle cx="1197" cy="1066" r="2.4"/><circle cx="1231" cy="1070" r="2.0"/><circle cx="1263" cy="1063" r="1.6"/><circle cx="11" cy="1094" r="8.1"/><circle cx="41" cy="1089" r="6.6"/><circle cx="66" cy="1096" r="7.8"/><circle cx="101" cy="1094" r="7.4"/><circle cx="132" cy="1092" r="5.7"/><circle cx="167" cy="1089" r="5.2"/><circle cx="197" cy="1088" r="5.1"/><circle cx="225" cy="1090" r="5.4"/><circle cx="251" cy="1094" r="4.8"/><circle cx="284" cy="1089" r="5.6"/><circle cx="315" cy="1093" r="4.4"/><circle cx="349" cy="1091" r="5.5"/><circle cx="376" cy="1091" r="5.2"/><circle cx="406" cy="1093" r="4.4"/><circle cx="439" cy="1089" r="4.1"/><circle cx="468" cy="1088" r="3.7"/><circle cx="502" cy="1090" r="4.2"/><circle cx="534" cy="1094" r="4.0"/><circle cx="568" cy="1097" r="3.9"/><circle cx="598" cy="1093" r="3.3"/><circle cx="631" cy="1093" r="3.3"/><circle cx="661" cy="1093" r="4.4"/><circle cx="689" cy="1092" r="4.4"/><circle cx="725" cy="1095" r="3.9"/><circle cx="751" cy="1095" r="4.5"/><circle cx="782" cy="1095" r="4.1"/><circle cx="814" cy="1090" r="3.9"/><circle cx="842" cy="1098" r="3.5"/><circle cx="873" cy="1090" r="4.7"/><circle cx="908" cy="1091" r="3.8"/><circle cx="939" cy="1095" r="4.4"/><circle cx="971" cy="1094" r="3.5"/><circle cx="1002" cy="1096" r="3.5"/><circle cx="1029" cy="1098" r="4.5"/><circle cx="1065" cy="1096" r="3.3"/><circle cx="1096" cy="1096" r="3.2"/><circle cx="1128" cy="1096" r="3.7"/><circle cx="1158" cy="1089" r="2.6"/><circle cx="1189" cy="1089" r="2.6"/><circle cx="1219" cy="1096" r="2.6"/><circle cx="1247" cy="1095" r="3.0"/><circle cx="1280" cy="1091" r="2.2"/><circle cx="-4" cy="1122" r="6.8"/><circle cx="20" cy="1120" r="7.9"/><circle cx="57" cy="1115" r="7.5"/><circle cx="81" cy="1122" r="6.2"/><circle cx="116" cy="1122" r="7.8"/><circle cx="150" cy="1122" r="6.0"/><circle cx="179" cy="1120" r="6.2"/><circle cx="210" cy="1119" r="5.8"/><circle cx="243" cy="1121" r="6.8"/><circle cx="275" cy="1123" r="5.1"/><circle cx="302" cy="1120" r="6.1"/><circle cx="337" cy="1117" r="4.4"/><circle cx="368" cy="1124" r="4.8"/><circle cx="396" cy="1118" r="4.6"/><circle cx="427" cy="1121" r="5.0"/><circle cx="456" cy="1119" r="4.2"/><circle cx="493" cy="1120" r="4.7"/><circle cx="524" cy="1115" r="4.4"/><circle cx="546" cy="1120" r="4.1"/><circle cx="577" cy="1120" r="4.1"/><circle cx="610" cy="1120" r="3.7"/><circle cx="640" cy="1117" r="4.3"/><circle cx="675" cy="1120" r="4.2"/><circle cx="708" cy="1122" r="3.7"/><circle cx="736" cy="1118" r="3.3"/><circle cx="771" cy="1115" r="3.7"/><circle cx="802" cy="1118" r="4.4"/><circle cx="824" cy="1116" r="3.9"/><circle cx="861" cy="1122" r="4.5"/><circle cx="894" cy="1116" r="4.7"/><circle cx="917" cy="1119" r="3.9"/><circle cx="948" cy="1117" r="4.6"/><circle cx="989" cy="1118" r="4.5"/><circle cx="1017" cy="1115" r="4.0"/><circle cx="1043" cy="1117" r="4.1"/><circle cx="1074" cy="1118" r="3.1"/><circle cx="1106" cy="1118" r="3.1"/><circle cx="1135" cy="1119" r="3.0"/><circle cx="1174" cy="1117" r="3.1"/><circle cx="1197" cy="1123" r="3.0"/><circle cx="1228" cy="1118" r="3.5"/><circle cx="1267" cy="1119" r="3.1"/><circle cx="6" cy="1147" r="7.5"/><circle cx="38" cy="1150" r="6.9"/><circle cx="66" cy="1147" r="8.1"/><circle cx="102" cy="1148" r="7.8"/><circle cx="133" cy="1143" r="7.0"/><circle cx="160" cy="1141" r="6.6"/><circle cx="198" cy="1146" r="7.0"/><circle cx="226" cy="1142" r="6.4"/><circle cx="260" cy="1148" r="5.8"/><circle cx="291" cy="1148" r="6.9"/><circle cx="321" cy="1147" r="5.7"/><circle cx="349" cy="1145" r="6.1"/><circle cx="376" cy="1151" r="5.0"/><circle cx="410" cy="1147" r="4.5"/><circle cx="443" cy="1142" r="5.0"/><circle cx="469" cy="1150" r="4.8"/><circle cx="506" cy="1149" r="3.8"/><circle cx="535" cy="1142" r="4.4"/><circle cx="568" cy="1143" r="3.9"/><circle cx="592" cy="1148" r="4.1"/><circle cx="623" cy="1148" r="4.2"/><circle cx="655" cy="1150" r="3.5"/><circle cx="685" cy="1142" r="4.0"/><circle cx="717" cy="1150" r="3.6"/><circle cx="747" cy="1150" r="3.4"/><circle cx="779" cy="1141" r="3.5"/><circle cx="813" cy="1146" r="3.8"/><circle cx="840" cy="1141" r="4.3"/><circle cx="875" cy="1149" r="4.3"/><circle cx="907" cy="1149" r="3.5"/><circle cx="935" cy="1147" r="4.4"/><circle cx="973" cy="1144" r="4.0"/><circle cx="997" cy="1145" r="3.6"/><circle cx="1035" cy="1145" r="3.8"/><circle cx="1057" cy="1150" r="3.3"/><circle cx="1096" cy="1144" r="3.4"/><circle cx="1119" cy="1145" r="4.3"/><circle cx="1153" cy="1145" r="4.0"/><circle cx="1183" cy="1149" r="4.3"/><circle cx="1220" cy="1142" r="3.9"/><circle cx="1250" cy="1149" r="3.8"/><circle cx="1275" cy="1148" r="3.7"/><circle cx="-3" cy="1175" r="9.0"/><circle cx="19" cy="1175" r="7.5"/><circle cx="54" cy="1170" r="8.0"/><circle cx="82" cy="1170" r="7.8"/><circle cx="112" cy="1171" r="8.1"/><circle cx="143" cy="1177" r="7.1"/><circle cx="175" cy="1176" r="6.8"/><circle cx="208" cy="1168" r="6.1"/><circle cx="244" cy="1173" r="6.5"/><circle cx="272" cy="1169" r="5.7"/><circle cx="306" cy="1175" r="5.9"/><circle cx="337" cy="1171" r="5.8"/><circle cx="367" cy="1177" r="5.2"/><circle cx="400" cy="1170" r="4.8"/><circle cx="426" cy="1174" r="4.9"/><circle cx="457" cy="1176" r="4.2"/><circle cx="487" cy="1175" r="4.9"/><circle cx="517" cy="1172" r="4.2"/><circle cx="548" cy="1173" r="4.6"/><circle cx="578" cy="1177" r="4.4"/><circle cx="612" cy="1172" r="3.3"/><circle cx="643" cy="1177" r="3.6"/><circle cx="672" cy="1177" r="3.3"/><circle cx="706" cy="1176" r="3.6"/><circle cx="734" cy="1174" r="3.3"/><circle cx="769" cy="1176" r="3.8"/><circle cx="801" cy="1169" r="3.3"/><circle cx="831" cy="1175" r="4.0"/><circle cx="859" cy="1169" r="3.1"/><circle cx="886" cy="1174" r="3.4"/><circle cx="917" cy="1177" r="3.1"/><circle cx="951" cy="1176" r="3.8"/><circle cx="981" cy="1178" r="3.6"/><circle cx="1018" cy="1172" r="3.9"/><circle cx="1051" cy="1169" r="3.9"/><circle cx="1078" cy="1178" r="4.0"/><circle cx="1106" cy="1170" r="4.0"/><circle cx="1136" cy="1172" r="4.6"/><circle cx="1167" cy="1170" r="4.3"/><circle cx="1201" cy="1177" r="4.1"/><circle cx="1235" cy="1172" r="4.8"/><circle cx="1267" cy="1170" r="3.9"/><circle cx="4" cy="1195" r="10.3"/><circle cx="34" cy="1202" r="9.1"/><circle cx="69" cy="1201" r="7.3"/><circle cx="103" cy="1203" r="7.0"/><circle cx="129" cy="1203" r="7.2"/><circle cx="159" cy="1203" r="8.8"/><circle cx="198" cy="1197" r="6.4"/><circle cx="220" cy="1196" r="6.7"/><circle cx="260" cy="1203" r="6.3"/><circle cx="285" cy="1201" r="6.0"/><circle cx="313" cy="1197" r="6.0"/><circle cx="344" cy="1205" r="7.1"/><circle cx="379" cy="1199" r="5.7"/><circle cx="414" cy="1199" r="5.9"/><circle cx="446" cy="1198" r="4.9"/><circle cx="477" cy="1198" r="5.3"/><circle cx="504" cy="1202" r="3.9"/><circle cx="533" cy="1202" r="3.8"/><circle cx="570" cy="1199" r="4.1"/><circle cx="599" cy="1198" r="4.0"/><circle cx="630" cy="1203" r="3.5"/><circle cx="657" cy="1201" r="3.6"/><circle cx="689" cy="1201" r="3.8"/><circle cx="717" cy="1197" r="3.0"/><circle cx="752" cy="1197" r="3.8"/><circle cx="780" cy="1200" r="3.6"/><circle cx="811" cy="1196" r="3.1"/><circle cx="847" cy="1199" r="3.8"/><circle cx="872" cy="1198" r="3.3"/><circle cx="905" cy="1198" r="2.9"/><circle cx="938" cy="1203" r="3.3"/><circle cx="973" cy="1201" r="3.4"/><circle cx="998" cy="1198" r="3.2"/><circle cx="1030" cy="1200" r="4.1"/><circle cx="1057" cy="1195" r="4.3"/><circle cx="1091" cy="1202" r="4.6"/><circle cx="1121" cy="1197" r="4.6"/><circle cx="1153" cy="1200" r="3.7"/><circle cx="1186" cy="1199" r="4.2"/><circle cx="1213" cy="1204" r="5.5"/><circle cx="1246" cy="1198" r="4.5"/><circle cx="1277" cy="1199" r="5.4"/><circle cx="-3" cy="1228" r="9.1"/><circle cx="24" cy="1225" r="9.7"/><circle cx="57" cy="1230" r="10.6"/><circle cx="87" cy="1227" r="8.9"/><circle cx="113" cy="1222" r="9.5"/><circle cx="152" cy="1230" r="7.4"/><circle cx="179" cy="1224" r="7.4"/><circle cx="212" cy="1231" r="6.6"/><circle cx="243" cy="1229" r="8.0"/><circle cx="267" cy="1225" r="7.9"/><circle cx="299" cy="1224" r="7.1"/><circle cx="330" cy="1225" r="6.0"/><circle cx="361" cy="1223" r="6.1"/><circle cx="393" cy="1223" r="5.3"/><circle cx="425" cy="1223" r="5.1"/><circle cx="452" cy="1229" r="4.7"/><circle cx="488" cy="1223" r="5.2"/><circle cx="524" cy="1229" r="4.0"/><circle cx="547" cy="1224" r="4.9"/><circle cx="577" cy="1230" r="4.5"/><circle cx="615" cy="1226" r="3.8"/><circle cx="642" cy="1228" r="3.8"/><circle cx="676" cy="1226" r="4.1"/><circle cx="706" cy="1225" r="3.5"/><circle cx="733" cy="1231" r="3.0"/><circle cx="766" cy="1226" r="3.5"/><circle cx="794" cy="1229" r="3.0"/><circle cx="827" cy="1225" r="2.9"/><circle cx="865" cy="1223" r="3.8"/><circle cx="893" cy="1231" r="3.4"/><circle cx="922" cy="1226" r="3.5"/><circle cx="951" cy="1224" r="3.7"/><circle cx="987" cy="1232" r="4.3"/><circle cx="1016" cy="1224" r="4.0"/><circle cx="1043" cy="1231" r="4.5"/><circle cx="1076" cy="1225" r="4.9"/><circle cx="1107" cy="1223" r="4.8"/><circle cx="1138" cy="1223" r="5.4"/><circle cx="1167" cy="1224" r="5.1"/><circle cx="1198" cy="1225" r="5.3"/><circle cx="1236" cy="1228" r="5.2"/><circle cx="1266" cy="1231" r="5.9"/><circle cx="5" cy="1249" r="10.5"/><circle cx="40" cy="1256" r="9.6"/><circle cx="74" cy="1256" r="10.7"/><circle cx="103" cy="1251" r="8.9"/><circle cx="129" cy="1255" r="8.6"/><circle cx="162" cy="1252" r="7.6"/><circle cx="194" cy="1256" r="8.0"/><circle cx="221" cy="1255" r="8.5"/><circle cx="256" cy="1257" r="9.1"/><circle cx="289" cy="1255" r="8.8"/><circle cx="318" cy="1254" r="6.8"/><circle cx="347" cy="1252" r="6.5"/><circle cx="377" cy="1251" r="5.8"/><circle cx="411" cy="1253" r="6.9"/><circle cx="444" cy="1258" r="6.7"/><circle cx="469" cy="1255" r="6.3"/><circle cx="499" cy="1250" r="4.4"/><circle cx="531" cy="1258" r="5.5"/><circle cx="562" cy="1249" r="3.9"/><circle cx="600" cy="1252" r="4.2"/><circle cx="626" cy="1253" r="4.2"/><circle cx="663" cy="1249" r="3.8"/><circle cx="692" cy="1257" r="3.9"/><circle cx="718" cy="1249" r="3.3"/><circle cx="752" cy="1258" r="3.6"/><circle cx="783" cy="1253" r="3.7"/><circle cx="818" cy="1254" r="3.6"/><circle cx="845" cy="1251" r="3.8"/><circle cx="871" cy="1253" r="3.8"/><circle cx="907" cy="1253" r="3.1"/><circle cx="936" cy="1256" r="3.8"/><circle cx="970" cy="1258" r="3.7"/><circle cx="997" cy="1255" r="4.6"/><circle cx="1033" cy="1257" r="4.8"/><circle cx="1057" cy="1255" r="4.2"/><circle cx="1094" cy="1257" r="5.5"/><circle cx="1120" cy="1252" r="4.7"/><circle cx="1158" cy="1256" r="5.8"/><circle cx="1186" cy="1256" r="5.9"/><circle cx="1213" cy="1258" r="6.6"/><circle cx="1247" cy="1254" r="5.2"/><circle cx="1276" cy="1249" r="5.8"/><circle cx="-6" cy="1280" r="9.7"/><circle cx="20" cy="1283" r="10.6"/><circle cx="57" cy="1278" r="9.8"/><circle cx="81" cy="1277" r="9.3"/><circle cx="114" cy="1285" r="8.4"/><circle cx="147" cy="1277" r="10.2"/><circle cx="174" cy="1284" r="8.5"/><circle cx="208" cy="1277" r="9.0"/><circle cx="236" cy="1282" r="8.7"/><circle cx="269" cy="1282" r="9.0"/><circle cx="298" cy="1285" r="9.3"/><circle cx="336" cy="1285" r="7.4"/><circle cx="360" cy="1280" r="8.4"/><circle cx="397" cy="1277" r="7.4"/><circle cx="429" cy="1280" r="6.8"/><circle cx="461" cy="1280" r="6.7"/><circle cx="489" cy="1283" r="6.5"/><circle cx="515" cy="1277" r="5.5"/><circle cx="548" cy="1279" r="4.2"/><circle cx="580" cy="1286" r="4.5"/><circle cx="609" cy="1279" r="4.4"/><circle cx="638" cy="1277" r="4.1"/><circle cx="673" cy="1283" r="3.5"/><circle cx="701" cy="1285" r="4.1"/><circle cx="737" cy="1282" r="3.3"/><circle cx="763" cy="1280" r="3.8"/><circle cx="798" cy="1281" r="3.0"/><circle cx="833" cy="1278" r="3.3"/><circle cx="863" cy="1285" r="3.2"/><circle cx="891" cy="1284" r="3.3"/><circle cx="918" cy="1278" r="3.3"/><circle cx="948" cy="1276" r="4.3"/><circle cx="987" cy="1284" r="4.0"/><circle cx="1013" cy="1285" r="3.9"/><circle cx="1045" cy="1279" r="5.1"/><circle cx="1079" cy="1286" r="6.1"/><circle cx="1109" cy="1285" r="5.8"/><circle cx="1136" cy="1281" r="5.5"/><circle cx="1174" cy="1284" r="5.7"/><circle cx="1202" cy="1282" r="7.4"/><circle cx="1228" cy="1281" r="5.7"/><circle cx="1262" cy="1279" r="5.8"/><circle cx="11" cy="1312" r="11.7"/><circle cx="38" cy="1307" r="9.2"/><circle cx="67" cy="1305" r="11.2"/><circle cx="103" cy="1309" r="10.9"/><circle cx="131" cy="1309" r="9.4"/><circle cx="158" cy="1308" r="10.7"/><circle cx="193" cy="1311" r="9.1"/><circle cx="222" cy="1304" r="8.9"/><circle cx="254" cy="1304" r="8.4"/><circle cx="291" cy="1310" r="8.6"/><circle cx="315" cy="1307" r="8.1"/><circle cx="350" cy="1305" r="8.3"/><circle cx="382" cy="1305" r="6.9"/><circle cx="411" cy="1308" r="8.2"/><circle cx="445" cy="1307" r="6.8"/><circle cx="475" cy="1308" r="5.6"/><circle cx="502" cy="1304" r="6.2"/><circle cx="537" cy="1309" r="4.7"/><circle cx="565" cy="1303" r="5.3"/><circle cx="599" cy="1304" r="4.8"/><circle cx="623" cy="1304" r="4.9"/><circle cx="656" cy="1309" r="4.8"/><circle cx="692" cy="1307" r="3.9"/><circle cx="720" cy="1304" r="4.2"/><circle cx="752" cy="1310" r="3.6"/><circle cx="780" cy="1305" r="3.2"/><circle cx="816" cy="1307" r="3.4"/><circle cx="849" cy="1306" r="3.3"/><circle cx="873" cy="1305" r="3.1"/><circle cx="907" cy="1307" r="3.4"/><circle cx="941" cy="1306" r="3.9"/><circle cx="969" cy="1312" r="4.3"/><circle cx="1004" cy="1306" r="4.1"/><circle cx="1028" cy="1311" r="4.3"/><circle cx="1059" cy="1311" r="4.6"/><circle cx="1095" cy="1306" r="5.3"/><circle cx="1128" cy="1311" r="5.8"/><circle cx="1151" cy="1308" r="5.8"/><circle cx="1190" cy="1306" r="6.9"/><circle cx="1212" cy="1307" r="7.4"/><circle cx="1244" cy="1309" r="6.9"/><circle cx="1282" cy="1312" r="7.0"/><circle cx="-11" cy="1334" r="10.4"/><circle cx="27" cy="1331" r="10.6"/><circle cx="53" cy="1332" r="11.5"/><circle cx="85" cy="1337" r="10.2"/><circle cx="119" cy="1338" r="10.1"/><circle cx="151" cy="1339" r="9.3"/><circle cx="179" cy="1338" r="9.2"/><circle cx="213" cy="1332" r="10.7"/><circle cx="239" cy="1339" r="10.8"/><circle cx="270" cy="1329" r="9.7"/><circle cx="303" cy="1332" r="10.3"/><circle cx="332" cy="1335" r="8.0"/><circle cx="366" cy="1335" r="7.4"/><circle cx="399" cy="1332" r="7.0"/><circle cx="428" cy="1334" r="8.3"/><circle cx="456" cy="1335" r="7.7"/><circle cx="492" cy="1331" r="5.7"/><circle cx="519" cy="1331" r="6.6"/><circle cx="548" cy="1333" r="4.8"/><circle cx="579" cy="1333" r="4.6"/><circle cx="609" cy="1332" r="4.9"/><circle cx="639" cy="1334" r="4.6"/><circle cx="669" cy="1337" r="4.6"/><circle cx="702" cy="1330" r="3.5"/><circle cx="740" cy="1330" r="3.9"/><circle cx="768" cy="1336" r="3.6"/><circle cx="798" cy="1334" r="3.9"/><circle cx="825" cy="1332" r="3.5"/><circle cx="859" cy="1335" r="3.3"/><circle cx="896" cy="1331" r="3.8"/><circle cx="917" cy="1337" r="3.1"/><circle cx="951" cy="1334" r="4.6"/><circle cx="980" cy="1334" r="4.9"/><circle cx="1015" cy="1337" r="5.8"/><circle cx="1049" cy="1332" r="5.2"/><circle cx="1077" cy="1337" r="6.9"/><circle cx="1111" cy="1337" r="6.9"/><circle cx="1141" cy="1338" r="7.9"/><circle cx="1167" cy="1332" r="7.3"/><circle cx="1206" cy="1332" r="8.8"/><circle cx="1230" cy="1336" r="8.5"/><circle cx="1268" cy="1335" r="7.1"/><circle cx="12" cy="1357" r="12.5"/><circle cx="40" cy="1363" r="9.5"/><circle cx="68" cy="1357" r="12.6"/><circle cx="105" cy="1363" r="11.1"/><circle cx="134" cy="1357" r="12.2"/><circle cx="161" cy="1360" r="8.8"/><circle cx="189" cy="1365" r="9.3"/><circle cx="225" cy="1363" r="10.8"/><circle cx="255" cy="1363" r="10.9"/><circle cx="284" cy="1360" r="9.9"/><circle cx="319" cy="1362" r="7.9"/><circle cx="346" cy="1360" r="10.0"/><circle cx="381" cy="1359" r="8.7"/><circle cx="408" cy="1366" r="8.7"/><circle cx="445" cy="1360" r="6.8"/><circle cx="475" cy="1358" r="7.9"/><circle cx="506" cy="1365" r="6.7"/><circle cx="536" cy="1356" r="5.6"/><circle cx="562" cy="1357" r="5.5"/><circle cx="592" cy="1361" r="4.4"/><circle cx="624" cy="1364" r="5.3"/><circle cx="660" cy="1362" r="3.9"/><circle cx="689" cy="1365" r="3.6"/><circle cx="719" cy="1359" r="3.6"/><circle cx="748" cy="1363" r="3.6"/><circle cx="787" cy="1359" r="3.9"/><circle cx="812" cy="1364" r="3.1"/><circle cx="849" cy="1359" r="3.7"/><circle cx="874" cy="1356" r="3.4"/><circle cx="903" cy="1364" r="3.1"/><circle cx="933" cy="1362" r="4.0"/><circle cx="970" cy="1363" r="3.9"/><circle cx="1004" cy="1364" r="5.6"/><circle cx="1026" cy="1359" r="4.9"/><circle cx="1065" cy="1359" r="6.0"/><circle cx="1090" cy="1363" r="5.9"/><circle cx="1123" cy="1364" r="7.1"/><circle cx="1152" cy="1361" r="7.1"/><circle cx="1188" cy="1364" r="7.9"/><circle cx="1212" cy="1360" r="7.2"/><circle cx="1251" cy="1366" r="8.0"/><circle cx="1279" cy="1362" r="6.8"/><circle cx="-9" cy="1393" r="13.2"/><circle cx="20" cy="1385" r="12.5"/><circle cx="55" cy="1383" r="12.9"/><circle cx="82" cy="1384" r="12.4"/><circle cx="119" cy="1384" r="11.1"/><circle cx="151" cy="1393" r="12.1"/><circle cx="181" cy="1392" r="10.2"/><circle cx="211" cy="1392" r="11.4"/><circle cx="241" cy="1391" r="11.0"/><circle cx="275" cy="1392" r="11.1"/><circle cx="299" cy="1386" r="9.7"/><circle cx="328" cy="1386" r="10.4"/><circle cx="369" cy="1388" r="8.8"/><circle cx="391" cy="1388" r="9.6"/><circle cx="424" cy="1390" r="8.8"/><circle cx="457" cy="1387" r="8.0"/><circle cx="485" cy="1386" r="6.4"/><circle cx="515" cy="1385" r="7.0"/><circle cx="552" cy="1387" r="5.0"/><circle cx="581" cy="1386" r="5.3"/><circle cx="616" cy="1387" r="4.4"/><circle cx="646" cy="1392" r="4.7"/><circle cx="672" cy="1392" r="3.6"/><circle cx="710" cy="1390" r="3.4"/><circle cx="733" cy="1391" r="4.3"/><circle cx="763" cy="1389" r="4.1"/><circle cx="800" cy="1392" r="4.0"/><circle cx="826" cy="1384" r="3.9"/><circle cx="857" cy="1392" r="3.9"/><circle cx="890" cy="1391" r="3.0"/><circle cx="922" cy="1384" r="3.9"/><circle cx="949" cy="1387" r="3.7"/><circle cx="989" cy="1389" r="4.9"/><circle cx="1012" cy="1391" r="5.7"/><circle cx="1047" cy="1383" r="6.0"/><circle cx="1077" cy="1391" r="6.4"/><circle cx="1103" cy="1388" r="6.9"/><circle cx="1134" cy="1384" r="8.0"/><circle cx="1169" cy="1386" r="9.4"/><circle cx="1197" cy="1386" r="9.4"/><circle cx="1229" cy="1393" r="8.5"/><circle cx="1263" cy="1392" r="8.2"/><circle cx="4" cy="1412" r="12.4"/><circle cx="34" cy="1417" r="10.9"/><circle cx="72" cy="1416" r="10.5"/><circle cx="103" cy="1419" r="12.2"/><circle cx="127" cy="1414" r="9.5"/><circle cx="162" cy="1413" r="10.9"/><circle cx="197" cy="1417" r="11.6"/><circle cx="220" cy="1415" r="10.1"/><circle cx="258" cy="1419" r="8.6"/><circle cx="290" cy="1413" r="8.5"/><circle cx="319" cy="1415" r="11.0"/><circle cx="352" cy="1415" r="9.9"/><circle cx="383" cy="1415" r="8.1"/><circle cx="412" cy="1418" r="8.7"/><circle cx="443" cy="1411" r="8.3"/><circle cx="473" cy="1417" r="7.1"/><circle cx="499" cy="1412" r="6.9"/><circle cx="531" cy="1413" r="5.9"/><circle cx="562" cy="1413" r="5.4"/><circle cx="601" cy="1417" r="4.1"/><circle cx="626" cy="1418" r="3.8"/><circle cx="661" cy="1417" r="3.9"/><circle cx="685" cy="1413" r="3.9"/><circle cx="722" cy="1411" r="3.4"/><circle cx="754" cy="1410" r="3.7"/><circle cx="781" cy="1413" r="3.4"/><circle cx="812" cy="1418" r="3.9"/><circle cx="845" cy="1417" r="3.8"/><circle cx="872" cy="1415" r="2.9"/><circle cx="909" cy="1419" r="3.1"/><circle cx="937" cy="1416" r="4.3"/><circle cx="964" cy="1414" r="4.6"/><circle cx="1001" cy="1419" r="5.0"/><circle cx="1031" cy="1414" r="6.2"/><circle cx="1058" cy="1414" r="6.2"/><circle cx="1094" cy="1413" r="8.8"/><circle cx="1121" cy="1412" r="7.6"/><circle cx="1157" cy="1418" r="10.4"/><circle cx="1186" cy="1416" r="9.5"/><circle cx="1217" cy="1411" r="10.8"/><circle cx="1247" cy="1415" r="7.9"/><circle cx="1279" cy="1412" r="9.4"/><circle cx="-6" cy="1442" r="12.2"/><circle cx="27" cy="1438" r="11.8"/><circle cx="59" cy="1439" r="12.0"/><circle cx="83" cy="1444" r="12.0"/><circle cx="112" cy="1438" r="10.7"/><circle cx="146" cy="1445" r="12.6"/><circle cx="179" cy="1438" r="10.7"/><circle cx="213" cy="1437" r="10.4"/><circle cx="238" cy="1443" r="9.5"/><circle cx="266" cy="1439" r="10.4"/><circle cx="301" cy="1445" r="9.2"/><circle cx="335" cy="1446" r="8.1"/><circle cx="364" cy="1439" r="8.7"/><circle cx="393" cy="1444" r="7.9"/><circle cx="431" cy="1439" r="7.4"/><circle cx="458" cy="1438" r="6.7"/><circle cx="486" cy="1443" r="7.6"/><circle cx="520" cy="1440" r="6.4"/><circle cx="555" cy="1440" r="4.9"/><circle cx="576" cy="1441" r="5.9"/><circle cx="616" cy="1444" r="4.2"/><circle cx="642" cy="1439" r="4.3"/><circle cx="677" cy="1437" r="4.2"/><circle cx="702" cy="1443" r="4.3"/><circle cx="739" cy="1440" r="4.1"/><circle cx="762" cy="1440" r="3.1"/><circle cx="800" cy="1442" r="3.6"/><circle cx="825" cy="1438" r="3.7"/><circle cx="861" cy="1446" r="3.3"/><circle cx="892" cy="1441" r="3.7"/><circle cx="920" cy="1442" r="4.2"/><circle cx="952" cy="1441" r="4.1"/><circle cx="989" cy="1442" r="5.7"/><circle cx="1012" cy="1441" r="6.1"/><circle cx="1043" cy="1440" r="6.9"/><circle cx="1078" cy="1437" r="9.3"/><circle cx="1111" cy="1437" r="8.6"/><circle cx="1141" cy="1437" r="10.6"/><circle cx="1175" cy="1437" r="9.6"/><circle cx="1206" cy="1440" r="11.5"/><circle cx="1235" cy="1437" r="9.7"/><circle cx="1261" cy="1445" r="8.0"/><circle cx="3" cy="1471" r="12.3"/><circle cx="43" cy="1468" r="10.2"/><circle cx="68" cy="1470" r="10.7"/><circle cx="102" cy="1466" r="12.1"/><circle cx="127" cy="1471" r="10.3"/><circle cx="161" cy="1473" r="9.8"/><circle cx="189" cy="1473" r="12.1"/><circle cx="225" cy="1469" r="10.6"/><circle cx="257" cy="1472" r="9.3"/><circle cx="285" cy="1469" r="9.2"/><circle cx="314" cy="1470" r="11.6"/><circle cx="352" cy="1467" r="8.8"/><circle cx="384" cy="1472" r="9.0"/><circle cx="406" cy="1465" r="9.0"/><circle cx="440" cy="1470" r="7.0"/><circle cx="474" cy="1469" r="6.3"/><circle cx="500" cy="1466" r="6.4"/><circle cx="535" cy="1473" r="5.4"/><circle cx="562" cy="1469" r="5.0"/><circle cx="592" cy="1469" r="4.8"/><circle cx="629" cy="1469" r="3.9"/><circle cx="658" cy="1464" r="3.7"/><circle cx="693" cy="1473" r="4.5"/><circle cx="723" cy="1470" r="3.7"/><circle cx="752" cy="1467" r="3.8"/><circle cx="782" cy="1473" r="3.2"/><circle cx="811" cy="1470" r="3.6"/><circle cx="844" cy="1466" r="2.9"/><circle cx="877" cy="1465" r="3.7"/><circle cx="906" cy="1471" r="3.3"/><circle cx="942" cy="1466" r="5.3"/><circle cx="964" cy="1471" r="5.0"/><circle cx="1004" cy="1470" r="7.0"/><circle cx="1031" cy="1471" r="6.9"/><circle cx="1060" cy="1470" r="7.1"/><circle cx="1090" cy="1466" r="8.0"/><circle cx="1121" cy="1464" r="9.7"/><circle cx="1154" cy="1471" r="12.0"/><circle cx="1186" cy="1470" r="12.7"/><circle cx="1221" cy="1468" r="12.2"/><circle cx="1247" cy="1468" r="9.4"/><circle cx="1281" cy="1466" r="8.6"/><circle cx="-5" cy="1495" r="10.7"/><circle cx="27" cy="1492" r="11.1"/><circle cx="49" cy="1499" r="11.8"/><circle cx="86" cy="1495" r="13.1"/><circle cx="120" cy="1498" r="11.7"/><circle cx="149" cy="1493" r="12.7"/><circle cx="178" cy="1491" r="10.6"/><circle cx="213" cy="1493" r="9.6"/><circle cx="245" cy="1495" r="11.0"/><circle cx="270" cy="1493" r="10.0"/><circle cx="306" cy="1495" r="11.0"/><circle cx="334" cy="1493" r="11.0"/><circle cx="368" cy="1492" r="7.8"/><circle cx="397" cy="1492" r="9.6"/><circle cx="426" cy="1496" r="7.5"/><circle cx="458" cy="1494" r="6.3"/><circle cx="488" cy="1499" r="7.2"/><circle cx="519" cy="1499" r="5.4"/><circle cx="547" cy="1494" r="4.9"/><circle cx="577" cy="1498" r="5.1"/><circle cx="614" cy="1492" r="5.2"/><circle cx="647" cy="1494" r="3.9"/><circle cx="672" cy="1493" r="3.9"/><circle cx="707" cy="1498" r="4.2"/><circle cx="737" cy="1499" r="3.6"/><circle cx="763" cy="1492" r="3.1"/><circle cx="794" cy="1493" r="3.5"/><circle cx="831" cy="1495" r="3.4"/><circle cx="861" cy="1497" r="3.3"/><circle cx="890" cy="1496" r="3.4"/><circle cx="918" cy="1495" r="4.0"/><circle cx="956" cy="1493" r="6.0"/><circle cx="986" cy="1497" r="6.3"/><circle cx="1012" cy="1494" r="6.7"/><circle cx="1046" cy="1491" r="7.0"/><circle cx="1082" cy="1490" r="8.6"/><circle cx="1107" cy="1500" r="9.5"/><circle cx="1137" cy="1495" r="11.1"/><circle cx="1174" cy="1497" r="10.1"/><circle cx="1205" cy="1499" r="10.7"/><circle cx="1235" cy="1500" r="12.4"/><circle cx="1267" cy="1493" r="10.5"/><circle cx="3" cy="1518" r="10.3"/><circle cx="36" cy="1518" r="10.9"/><circle cx="66" cy="1519" r="11.7"/><circle cx="99" cy="1524" r="10.2"/><circle cx="133" cy="1520" r="10.8"/><circle cx="160" cy="1518" r="12.6"/><circle cx="191" cy="1517" r="11.1"/><circle cx="220" cy="1518" r="9.6"/><circle cx="253" cy="1521" r="9.7"/><circle cx="285" cy="1525" r="9.6"/><circle cx="321" cy="1524" r="10.7"/><circle cx="348" cy="1521" r="9.3"/><circle cx="384" cy="1518" r="9.0"/><circle cx="414" cy="1523" r="6.9"/><circle cx="446" cy="1520" r="8.3"/><circle cx="472" cy="1518" r="7.0"/><circle cx="501" cy="1520" r="7.1"/><circle cx="539" cy="1523" r="5.9"/><circle cx="567" cy="1522" r="5.5"/><circle cx="598" cy="1527" r="4.9"/><circle cx="631" cy="1518" r="4.2"/><circle cx="655" cy="1520" r="3.5"/><circle cx="693" cy="1522" r="3.8"/><circle cx="724" cy="1525" r="3.9"/><circle cx="747" cy="1518" r="3.3"/><circle cx="783" cy="1527" r="3.1"/><circle cx="810" cy="1520" r="2.9"/><circle cx="847" cy="1523" r="3.0"/><circle cx="878" cy="1521" r="3.0"/><circle cx="902" cy="1525" r="3.7"/><circle cx="940" cy="1527" r="5.3"/><circle cx="964" cy="1519" r="5.5"/><circle cx="1000" cy="1521" r="6.1"/><circle cx="1028" cy="1527" r="7.6"/><circle cx="1061" cy="1525" r="9.3"/><circle cx="1095" cy="1525" r="9.0"/><circle cx="1121" cy="1522" r="11.0"/><circle cx="1152" cy="1526" r="9.7"/><circle cx="1183" cy="1521" r="10.6"/><circle cx="1213" cy="1520" r="10.0"/><circle cx="1249" cy="1523" r="9.4"/><circle cx="1281" cy="1521" r="9.7"/><circle cx="-6" cy="1553" r="11.4"/><circle cx="25" cy="1547" r="10.4"/><circle cx="58" cy="1547" r="12.1"/><circle cx="83" cy="1549" r="12.2"/><circle cx="117" cy="1549" r="8.8"/><circle cx="146" cy="1545" r="10.6"/><circle cx="183" cy="1547" r="11.5"/><circle cx="213" cy="1546" r="11.2"/><circle cx="242" cy="1546" r="8.7"/><circle cx="272" cy="1553" r="8.8"/><circle cx="305" cy="1550" r="8.1"/><circle cx="335" cy="1547" r="7.9"/><circle cx="364" cy="1544" r="9.3"/><circle cx="390" cy="1554" r="8.9"/><circle cx="430" cy="1550" r="8.2"/><circle cx="452" cy="1548" r="6.7"/><circle cx="485" cy="1551" r="6.8"/><circle cx="518" cy="1545" r="5.4"/><circle cx="554" cy="1554" r="4.7"/><circle cx="576" cy="1553" r="4.9"/><circle cx="607" cy="1549" r="4.0"/><circle cx="648" cy="1550" r="4.4"/><circle cx="673" cy="1548" r="3.7"/><circle cx="701" cy="1548" r="3.3"/><circle cx="733" cy="1552" r="3.4"/><circle cx="769" cy="1550" r="2.9"/><circle cx="796" cy="1546" r="3.3"/><circle cx="827" cy="1545" r="3.5"/><circle cx="856" cy="1554" r="3.0"/><circle cx="893" cy="1554" r="2.9"/><circle cx="926" cy="1547" r="4.1"/><circle cx="953" cy="1549" r="5.3"/><circle cx="987" cy="1548" r="6.5"/><circle cx="1019" cy="1549" r="7.1"/><circle cx="1046" cy="1546" r="8.4"/><circle cx="1075" cy="1548" r="10.1"/><circle cx="1106" cy="1547" r="10.2"/><circle cx="1140" cy="1553" r="9.3"/><circle cx="1168" cy="1546" r="10.0"/><circle cx="1200" cy="1552" r="13.3"/><circle cx="1229" cy="1551" r="10.0"/><circle cx="1263" cy="1545" r="9.1"/><circle cx="8" cy="1575" r="10.5"/><circle cx="43" cy="1573" r="10.4"/><circle cx="65" cy="1580" r="8.5"/><circle cx="100" cy="1575" r="10.0"/><circle cx="129" cy="1573" r="9.9"/><circle cx="166" cy="1581" r="9.2"/><circle cx="191" cy="1574" r="8.3"/><circle cx="228" cy="1579" r="8.1"/><circle cx="260" cy="1576" r="9.3"/><circle cx="288" cy="1578" r="8.0"/><circle cx="316" cy="1576" r="8.8"/><circle cx="351" cy="1573" r="7.2"/><circle cx="381" cy="1575" r="8.6"/><circle cx="415" cy="1581" r="7.8"/><circle cx="445" cy="1579" r="5.4"/><circle cx="475" cy="1579" r="5.2"/><circle cx="500" cy="1580" r="4.9"/><circle cx="530" cy="1574" r="4.8"/><circle cx="564" cy="1573" r="4.5"/><circle cx="600" cy="1571" r="3.9"/><circle cx="632" cy="1579" r="3.1"/><circle cx="659" cy="1573" r="3.2"/><circle cx="693" cy="1580" r="3.9"/><circle cx="716" cy="1571" r="3.1"/><circle cx="750" cy="1572" r="3.5"/><circle cx="782" cy="1581" r="2.7"/><circle cx="813" cy="1572" r="3.6"/><circle cx="848" cy="1572" r="3.0"/><circle cx="880" cy="1577" r="3.0"/><circle cx="908" cy="1576" r="3.7"/><circle cx="933" cy="1577" r="4.8"/><circle cx="964" cy="1574" r="5.1"/><circle cx="1000" cy="1579" r="6.5"/><circle cx="1026" cy="1580" r="6.6"/><circle cx="1065" cy="1572" r="7.4"/><circle cx="1094" cy="1575" r="10.3"/><circle cx="1119" cy="1572" r="8.6"/><circle cx="1154" cy="1573" r="9.6"/><circle cx="1185" cy="1579" r="12.6"/><circle cx="1216" cy="1574" r="10.5"/><circle cx="1249" cy="1575" r="10.8"/><circle cx="1275" cy="1573" r="9.4"/><circle cx="-8" cy="1608" r="10.7"/><circle cx="19" cy="1606" r="8.6"/><circle cx="55" cy="1603" r="8.5"/><circle cx="82" cy="1608" r="10.2"/><circle cx="115" cy="1606" r="9.7"/><circle cx="146" cy="1606" r="10.0"/><circle cx="176" cy="1607" r="8.4"/><circle cx="206" cy="1607" r="9.4"/><circle cx="237" cy="1603" r="7.6"/><circle cx="274" cy="1599" r="9.7"/><circle cx="306" cy="1601" r="9.1"/><circle cx="333" cy="1604" r="8.6"/><circle cx="359" cy="1598" r="6.9"/><circle cx="395" cy="1605" r="6.0"/><circle cx="422" cy="1598" r="5.4"/><circle cx="454" cy="1607" r="5.6"/><circle cx="486" cy="1600" r="5.3"/><circle cx="516" cy="1600" r="4.8"/><circle cx="549" cy="1608" r="4.2"/><circle cx="576" cy="1598" r="4.3"/><circle cx="612" cy="1604" r="4.0"/><circle cx="641" cy="1600" r="3.4"/><circle cx="679" cy="1607" r="3.3"/><circle cx="707" cy="1601" r="3.2"/><circle cx="733" cy="1604" r="3.4"/><circle cx="768" cy="1606" r="2.8"/><circle cx="801" cy="1605" r="3.4"/><circle cx="830" cy="1601" r="2.9"/><circle cx="862" cy="1601" r="3.5"/><circle cx="893" cy="1608" r="2.9"/><circle cx="922" cy="1605" r="4.3"/><circle cx="949" cy="1607" r="5.3"/><circle cx="983" cy="1601" r="5.0"/><circle cx="1017" cy="1602" r="6.6"/><circle cx="1043" cy="1606" r="6.6"/><circle cx="1081" cy="1599" r="8.6"/><circle cx="1106" cy="1598" r="8.1"/><circle cx="1135" cy="1598" r="9.3"/><circle cx="1168" cy="1603" r="12.4"/><circle cx="1201" cy="1606" r="11.4"/><circle cx="1235" cy="1600" r="10.1"/><circle cx="1260" cy="1602" r="9.5"/><circle cx="8" cy="1632" r="9.3"/><circle cx="39" cy="1628" r="7.8"/><circle cx="69" cy="1634" r="9.8"/><circle cx="104" cy="1632" r="7.2"/><circle cx="131" cy="1634" r="8.4"/><circle cx="164" cy="1631" r="8.5"/><circle cx="195" cy="1630" r="8.0"/><circle cx="229" cy="1628" r="8.3"/><circle cx="260" cy="1628" r="6.9"/><circle cx="282" cy="1626" r="7.1"/><circle cx="317" cy="1625" r="8.3"/><circle cx="349" cy="1631" r="7.8"/><circle cx="377" cy="1629" r="7.4"/><circle cx="415" cy="1633" r="5.4"/><circle cx="445" cy="1625" r="4.9"/><circle cx="473" cy="1625" r="4.5"/><circle cx="508" cy="1628" r="4.1"/><circle cx="538" cy="1626" r="4.7"/><circle cx="564" cy="1627" r="4.2"/><circle cx="594" cy="1634" r="2.9"/><circle cx="623" cy="1626" r="3.7"/><circle cx="656" cy="1627" r="3.0"/><circle cx="685" cy="1631" r="3.0"/><circle cx="724" cy="1633" r="3.0"/><circle cx="753" cy="1634" r="2.8"/><circle cx="787" cy="1630" r="2.6"/><circle cx="810" cy="1632" r="3.4"/><circle cx="840" cy="1626" r="3.2"/><circle cx="879" cy="1626" r="2.9"/><circle cx="907" cy="1630" r="3.1"/><circle cx="938" cy="1634" r="4.7"/><circle cx="966" cy="1634" r="4.7"/><circle cx="998" cy="1629" r="6.8"/><circle cx="1026" cy="1634" r="7.7"/><circle cx="1061" cy="1629" r="8.8"/><circle cx="1095" cy="1631" r="7.7"/><circle cx="1123" cy="1628" r="9.6"/><circle cx="1158" cy="1626" r="12.1"/><circle cx="1184" cy="1632" r="11.8"/><circle cx="1219" cy="1632" r="10.0"/><circle cx="1249" cy="1628" r="11.1"/><circle cx="1275" cy="1625" r="7.7"/><circle cx="-5" cy="1659" r="8.5"/><circle cx="26" cy="1652" r="8.6"/><circle cx="58" cy="1655" r="6.8"/><circle cx="88" cy="1660" r="6.6"/><circle cx="117" cy="1654" r="8.5"/><circle cx="147" cy="1660" r="8.6"/><circle cx="175" cy="1657" r="6.8"/><circle cx="205" cy="1658" r="7.3"/><circle cx="244" cy="1661" r="7.9"/><circle cx="271" cy="1653" r="6.8"/><circle cx="297" cy="1657" r="7.6"/><circle cx="328" cy="1661" r="5.4"/><circle cx="369" cy="1655" r="5.6"/><circle cx="399" cy="1656" r="5.6"/><circle cx="430" cy="1661" r="4.4"/><circle cx="459" cy="1652" r="5.0"/><circle cx="487" cy="1659" r="4.7"/><circle cx="521" cy="1660" r="3.9"/><circle cx="548" cy="1652" r="3.6"/><circle cx="583" cy="1652" r="3.0"/><circle cx="617" cy="1655" r="3.4"/><circle cx="645" cy="1653" r="2.7"/><circle cx="677" cy="1658" r="2.7"/><circle cx="705" cy="1658" r="3.1"/><circle cx="739" cy="1656" r="3.3"/><circle cx="768" cy="1657" r="3.3"/><circle cx="799" cy="1657" r="2.5"/><circle cx="825" cy="1660" r="2.9"/><circle cx="859" cy="1653" r="2.6"/><circle cx="890" cy="1656" r="3.0"/><circle cx="918" cy="1654" r="3.3"/><circle cx="949" cy="1657" r="4.9"/><circle cx="988" cy="1658" r="5.2"/><circle cx="1019" cy="1657" r="7.3"/><circle cx="1043" cy="1652" r="6.6"/><circle cx="1072" cy="1657" r="8.3"/><circle cx="1112" cy="1658" r="9.2"/><circle cx="1134" cy="1660" r="9.6"/><circle cx="1165" cy="1657" r="11.9"/><circle cx="1197" cy="1658" r="11.6"/><circle cx="1227" cy="1654" r="9.1"/><circle cx="1263" cy="1656" r="8.3"/><circle cx="6" cy="1684" r="7.6"/><circle cx="38" cy="1687" r="6.8"/><circle cx="66" cy="1681" r="7.3"/><circle cx="98" cy="1681" r="6.9"/><circle cx="133" cy="1682" r="7.9"/><circle cx="159" cy="1682" r="6.8"/><circle cx="197" cy="1681" r="6.8"/><circle cx="221" cy="1684" r="6.6"/><circle cx="257" cy="1682" r="7.1"/><circle cx="287" cy="1688" r="6.2"/><circle cx="321" cy="1680" r="6.5"/><circle cx="350" cy="1679" r="5.6"/><circle cx="379" cy="1680" r="6.1"/><circle cx="407" cy="1683" r="4.8"/><circle cx="444" cy="1685" r="5.3"/><circle cx="473" cy="1684" r="5.0"/><circle cx="503" cy="1688" r="3.8"/><circle cx="534" cy="1687" r="3.2"/><circle cx="565" cy="1686" r="3.4"/><circle cx="592" cy="1682" r="3.3"/><circle cx="627" cy="1682" r="2.6"/><circle cx="661" cy="1679" r="3.1"/><circle cx="687" cy="1683" r="3.1"/><circle cx="724" cy="1686" r="2.6"/><circle cx="748" cy="1687" r="2.9"/><circle cx="780" cy="1682" r="2.7"/><circle cx="817" cy="1686" r="2.8"/><circle cx="847" cy="1686" r="2.6"/><circle cx="872" cy="1683" r="2.5"/><circle cx="909" cy="1682" r="3.0"/><circle cx="941" cy="1681" r="3.7"/><circle cx="972" cy="1678" r="5.8"/><circle cx="1000" cy="1679" r="6.6"/><circle cx="1028" cy="1682" r="7.8"/><circle cx="1057" cy="1682" r="8.8"/><circle cx="1092" cy="1684" r="7.4"/><circle cx="1128" cy="1685" r="10.7"/><circle cx="1151" cy="1680" r="9.4"/><circle cx="1188" cy="1679" r="12.6"/><circle cx="1220" cy="1682" r="10.2"/><circle cx="1249" cy="1684" r="8.4"/><circle cx="1278" cy="1679" r="9.4"/></g><clipPath id="cc"><rect x="51" y="45" width="1949" height="1586" rx="49" ry="49"/></clipPath></defs>
<use href="#D" fill="#e3e3e3"/>
<rect x="51" y="45" width="1949" height="1586" rx="49" ry="49" fill="#cde3f1"/>
<g clip-path="url(#cc)"><rect x="247" y="908" width="1042" height="730" fill="#d2e5f2"/><use href="#D" fill="#bed3e3"/></g>
</svg>

<div class="abs" style="left:108px;top:197px;width:487px;height:6px;background:#d3eee3"></div>
<div class="tb" style="left:108px;top:120px;width:484px;height:78px"></div>
<div class="tb" style="left:108px;top:202px;width:833px;height:78px"></div>
<div class="tt" id="t1" style="left:126px;top:120px;transform:scaleX(0.878)">Le biométhane,</div>
<div class="tt" id="t2" style="left:126px;top:204px;transform:scaleX(0.8905)">un sous-produit du biogaz</div>

<div class="body" style="top:366px">Le biométhane est un biogaz qui a été épuré. Ce biogaz est issu de la digestion par les bactéries<br>de la matière organique et ceci dans un milieu en absence d’oxygène (méthanisation).</div>
<div class="body" style="top:478px">Le biogaz est un gaz composé de 50-60 % de méthane, de 35 % CO<sub>2</sub>, d’eau, et 5 % d’autres gaz<br>traces (H<sub>2</sub>S…). Il est déjà valorisable après un léger traitement en combustible pour une chaudière<br>ou une cogénération. Il n’y a pas un, mais des biogaz dépendants des matières digérées.</div>
<div class="body" style="top:638px">Pour obtenir du biométhane, il faut donc enlever le CO<sub>2,</sub> l’eau et d’autres composés pour atteindre<br>une qualité similaire à celle du gaz naturel (98 % de méthane).</div>
<div class="body" style="top:750px">Les techniques d’épuration sont multiples et éprouvées en Europe avec 1 023 installations fin 2021.</div>
<div class="src" style="top:815px">Source : Carte du biométhane 2021 réalisée par l'European Biogas Association et Gas Infrastructure Europe.</div>

<svg class="abs" style="left:0;top:0" width="2048" height="1668" viewBox="0 0 2048 1668">
<defs><clipPath id="ac"><polygon points="347.6,973.7 912.3,973.7 912.3,920.5 1100.2,1027 912.3,1134.4 912.3,1081 347.6,1081"/><polygon points="347.6,1096.8 744.5,1096.8 744.5,1191.6 761.5,1191.6 728,1220.5 695,1191.6 711,1191.6 711,1147 347.6,1147"/><polygon points="347.6,1159.8 660.5,1159.8 660.5,1243 670.8,1243 648,1268.5 623.8,1243 636,1243 636,1194.3 347.6,1194.3"/><polygon points="347.6,1210.8 586,1210.8 586,1298 596,1298 575,1327 553.8,1298 564,1298 564,1245.6 347.6,1245.6"/><polygon points="347.6,1256 522.8,1256 522.8,1362.6 530.8,1362.6 514.8,1394.8 498.7,1362.6 506.7,1362.6 506.7,1288 347.6,1288"/><polygon points="347.6,1299.5 463,1299.5 463,1449.8 467.7,1449.8 457,1493.5 447,1449.8 451.6,1449.8 451.6,1318 347.6,1318"/></clipPath></defs>
<polygon fill="#3fa843" points="347.6,973.7 912.3,973.7 912.3,920.5 1100.2,1027 912.3,1134.4 912.3,1081 347.6,1081"/>
<polygon fill="#d2492a" points="347.6,1096.8 744.5,1096.8 744.5,1191.6 761.5,1191.6 728,1220.5 695,1191.6 711,1191.6 711,1147 347.6,1147"/>
<polygon fill="#213d80" points="347.6,1159.8 660.5,1159.8 660.5,1243 670.8,1243 648,1268.5 623.8,1243 636,1243 636,1194.3 347.6,1194.3"/>
<polygon fill="#d5468c" points="347.6,1210.8 586,1210.8 586,1298 596,1298 575,1327 553.8,1298 564,1298 564,1245.6 347.6,1245.6"/>
<polygon fill="#e1952e" points="347.6,1256 522.8,1256 522.8,1362.6 530.8,1362.6 514.8,1394.8 498.7,1362.6 506.7,1362.6 506.7,1288 347.6,1288"/>
<polygon fill="#8a949c" points="347.6,1299.5 463,1299.5 463,1449.8 467.7,1449.8 457,1493.5 447,1449.8 451.6,1449.8 451.6,1318 347.6,1318"/>
<g clip-path="url(#ac)"><use href="#D" fill="#000" fill-opacity="0.07"/></g>
</svg>

<div class="lab" id="biogaz" style="left:273px;top:1199px;color:#77b75f;font-weight:normal;font-size:46px;line-height:48px;transform:rotate(-90deg) scaleX(0.925);-webkit-text-stroke:1.4px #77b75f">BIOGAZ</div>
<div class="lab" id="l1" style="left:1001px;top:1113px;color:#3a9f45;font-size:26px;line-height:30px;transform:scaleX(1.063)">Biométhane (CH4)</div>
<div class="lab" id="l2" style="left:714px;top:1238px;color:#d14b2b;font-size:26px;line-height:30px;transform:scaleX(1.05)">Dioxyde de carbone (CO2)</div>
<div class="lab" id="l3" style="left:635px;top:1296px;color:#1f3d7c;font-size:26px;line-height:30px;transform:scaleX(1.085)">Vapeur d’eau (H2O)</div>
<div class="lab" id="l4" style="left:574px;top:1353px;color:#d4478b;font-size:26px;line-height:30px;transform:scaleX(1.049)">Sulfure d’hydrogène (H2S)</div>
<div class="lab" id="l5" style="left:517px;top:1419px;color:#df952f;font-size:26px;line-height:30px;transform:scaleX(1.073)">Ammoniac (NH3)</div>
<div class="lab" id="l6" style="left:395px;top:1513px;color:#7a7d81;font-size:30px;line-height:36px;transform:scaleX(0.967)">Autres contaminants (Particules gouttelettes, siloxanes,<br>hydrocarbures, mercaptans</div>

<div id="box"></div>
<div class="boxt" style="top:978px">Le biométhane est équivalent<br>au gaz naturel. Il peut donc être<br>injecté dans les réseaux<br>existants et s’utiliser<br>en tant que carburant véhicule<br>(bio-GNV).</div>

<svg class="abs" style="left:1298px;top:1410px" width="270" height="8"><line x1="0" y1="4" x2="262" y2="4" stroke="#2a2a2a" stroke-width="1.8" stroke-dasharray="5.6 3.77"/></svg>
<div class="cap" style="top:1431px">Schéma du biogas au biométhane<br>(© Michael Harasek – Vienna University<br>of Technology – Présentation lors du kick-off meeting<br>de Bio-Methane Regions (Mai 2011).)</div>
</body></html>
